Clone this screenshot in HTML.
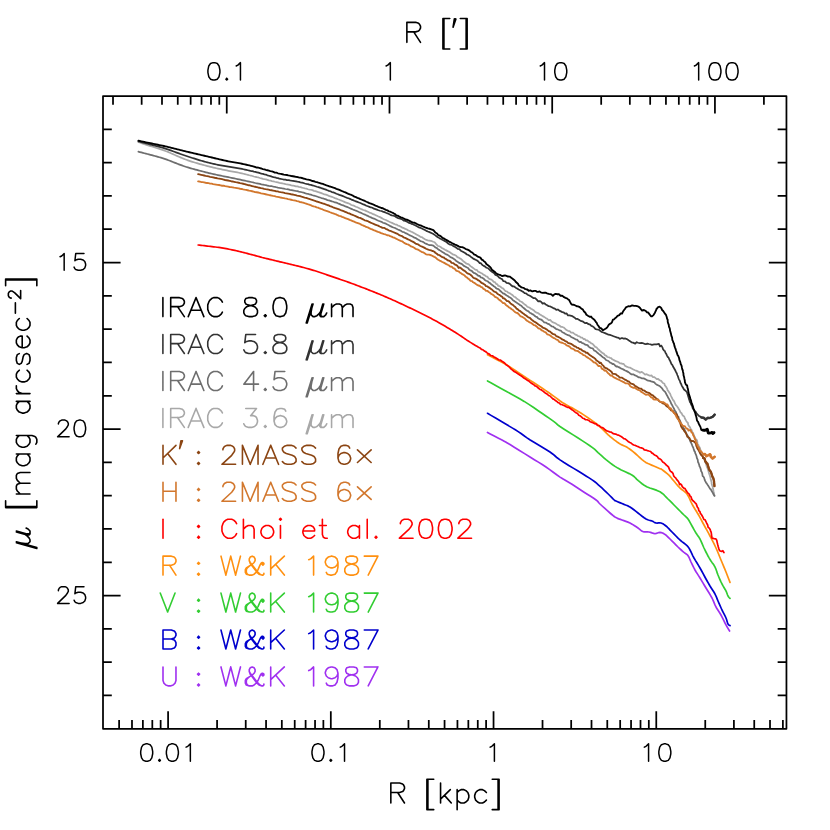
<!DOCTYPE html>
<html><head><meta charset="utf-8"><title>Surface brightness profiles</title>
<style>
html,body{margin:0;padding:0;background:#fff;font-family:"Liberation Sans",sans-serif;}
svg{display:block}
</style></head>
<body>
<svg width="830" height="830" viewBox="0 0 830 830">
<rect width="830" height="830" fill="#fff"/>
<g fill="none" stroke-linecap="round" stroke-linejoin="round">
<path d="M487.5 432.5L490.26 433.92L494.25 435.96L498.49 438.15L502 440L504.18 441.17L505.66 441.99L507.31 442.97L510 444.6L514.25 447.21L519.5 450.46L525 453.89L530 457L534.33 459.67L538.38 462.14L542.23 464.55L546 467L549.69 469.59L553.25 472.22L556.69 474.78L560 477.1L563.14 479.09L566.12 480.84L569.04 482.52L572 484.3L575.02 486.23L578.05 488.21L581.08 490.22L584.1 492.2L587.3 494.25L590.61 496.34L593.67 498.32L596.1 500L597.5 501.15L598.18 501.93L598.79 502.74L600 504L602.16 506L604.87 508.46L607.64 510.94L610 513L611.78 514.51L613.25 515.71L614.59 516.71L616 517.6L617.45 518.34L618.88 518.9L620.36 519.41L622 520L623.86 520.66L625.88 521.34L627.95 522.1L630 523L632.07 524.14L634.19 525.46L636.21 526.8L638 528L639.44 529.07L640.62 530.09L641.75 530.96L643 531.6L644.43 531.9L645.94 531.92L647.48 531.89L649 532L650.52 532.38L652.06 532.9L653.57 533.37L655 533.6L656.32 533.42L657.56 532.98L658.77 532.54L660 532.4L661.25 532.61L662.5 533.04L663.75 533.64L665 534.4L666.18 535.29L667.31 536.32L668.54 537.55L670 539L671.84 540.82L673.94 542.95L676.07 545.1L678 547L679.69 548.58L681.25 550L682.69 551.27L684 552.4L685.16 553.28L686.19 553.94L687.12 554.63L688 555.6L688.8 556.94L689.5 558.5L690.2 560.21L691 562L691.91 563.89L692.88 565.9L693.91 567.96L695 570L696.16 571.95L697.38 573.88L698.66 575.86L700 578L701.43 580.36L702.94 582.88L704.48 585.45L706 588L707.55 590.52L709.12 593.06L710.64 595.57L712 598L713.12 600.34L714.06 602.62L714.98 604.84L716 607L717.2 609.07L718.5 611.06L719.8 613.02L721 615L722.09 617.06L723.12 619.16L724.09 621.18L725 623L725.85 624.6L726.65 626.04L727.37 627.31L728 628.4L728.54 629.31L728.99 630.04L729.35 630.6L729.6 631" stroke="#a030f0" stroke-width="1.7"/>
<path d="M487.5 413.3L490.99 415.36L496.04 418.34L501.47 421.55L506.1 424.3L509.58 426.36L512.56 428.11L515.33 429.78L518.2 431.6L521.02 433.54L523.72 435.51L526.65 437.62L530.2 440L534.83 442.84L540.23 446.03L545.56 449.2L550 452L553 454.19L555.11 456L557.16 457.79L560 459.9L564.04 462.52L568.78 465.43L573.65 468.38L578.1 471.1L582.13 473.57L585.98 475.93L589.49 478.11L592.5 480.1L594.8 481.77L596.52 483.17L598.06 484.54L599.8 486.1L601.88 487.99L604.08 490.05L606.24 492.11L608.2 494L609.97 495.75L611.61 497.43L613.05 498.9L614.2 500L614.8 500.55L614.98 500.66L615.21 500.7L616 501L617.61 501.7L619.74 502.6L622 503.55L624 504.4L625.59 505.03L627 505.54L628.41 506.13L630 507L631.86 508.26L633.88 509.79L635.95 511.42L638 513L640.05 514.59L642.12 516.25L644.14 517.78L646 519L647.69 519.78L649.25 520.25L650.69 520.59L652 521L653.12 521.55L654.06 522.12L654.98 522.64L656 523L657.18 523.07L658.44 522.94L659.73 522.84L661 523L662.23 523.47L663.44 524.12L664.68 524.97L666 526L667.38 527.24L668.81 528.69L670.34 530.29L672 532L673.88 533.92L675.94 536.02L678.02 538.12L680 540L681.91 541.6L683.81 543.03L685.55 544.34L687 545.6L688.01 546.7L688.69 547.65L689.27 548.68L690 550L690.88 551.7L691.81 553.65L692.84 555.77L694 558L695.36 560.34L696.88 562.81L698.45 565.38L700 568L701.55 570.77L703.12 573.69L704.64 576.51L706 579L707.12 581.01L708.06 582.69L708.98 584.27L710 586L711.23 587.95L712.56 590L713.87 592.05L715 594L715.87 595.77L716.56 597.44L717.23 599.13L718 601L718.93 603.13L719.94 605.44L720.98 607.77L722 610L723.05 612.12L724.12 614.19L725.14 616.16L726 618L726.64 619.74L727.12 621.4L727.55 622.86L728 624L728.55 624.75L729.12 625.17L729.64 625.42L730 625.6" stroke="#0000cd" stroke-width="1.7"/>
<path d="M487.5 381L490.85 382.83L495.67 385.46L501.05 388.41L506.1 391.2L510.66 393.71L515.18 396.18L519.69 398.72L524.2 401.4L528.87 404.38L533.63 407.56L538.2 410.69L542.3 413.5L545.88 415.95L549.07 418.17L551.89 420.15L554.3 421.9L555.88 423.16L556.77 424.01L557.85 424.95L560 426.5L563.74 428.93L568.51 431.94L573.54 435.1L578.1 438L582.13 440.6L585.98 443.11L589.49 445.46L592.5 447.6L594.8 449.45L596.52 451.05L598.06 452.58L599.8 454.2L601.79 455.97L603.86 457.79L605.99 459.62L608.2 461.4L610.4 463.1L612.62 464.75L615.03 466.4L617.8 468.1L621.28 469.91L625.27 471.78L629.16 473.61L632.3 475.3L634.34 476.76L635.68 478.08L636.83 479.35L638.3 480.7L640.12 482.18L642.04 483.72L644.2 485.25L646.7 486.7L649.8 487.99L653.38 489.18L656.93 490.4L660 491.8L662.37 493.43L664.33 495.22L666.12 497.09L668 499L670 500.94L672 502.95L674 504.98L676 507L678.09 509.09L680.25 511.25L682.28 513.28L684 515L685.28 516.21L686.25 517.06L687.09 517.88L688 519L689 520.54L690 522.31L691 524.18L692 526L693 527.77L694 529.56L695 531.32L696 533L697 534.5L698 535.88L699 537.31L700 539L701 541.06L702 543.38L703 545.75L704 548L705.02 550.14L706.06 552.25L707.07 554.23L708 556L708.8 557.44L709.5 558.62L710.2 559.75L711 561L711.95 562.38L713 563.81L714.05 565.34L715 567L715.8 568.84L716.5 570.81L717.2 572.88L718 575L718.93 577.23L719.94 579.56L720.98 581.87L722 584L723.05 585.94L724.12 587.75L725.14 589.44L726 591L726.64 592.45L727.12 593.79L727.55 594.98L728 596L728.55 596.84L729.12 597.51L729.64 598.03L730 598.4" stroke="#32cd32" stroke-width="1.7"/>
<path d="M487.5 354.7L490.99 356.53L496.04 359.16L501.47 362.03L506.1 364.6L509.58 366.72L512.56 368.68L515.33 370.57L518.2 372.5L521.2 374.48L524.2 376.46L527.2 378.43L530.2 380.4L533.22 382.34L536.25 384.27L539.28 386.21L542.3 388.2L545.42 390.33L548.6 392.55L551.63 394.7L554.3 396.6L556.43 398.17L558.17 399.52L559.81 400.76L561.6 402L563.77 403.35L566.13 404.73L568.32 405.97L570 406.9L570.71 407.26L570.77 407.2L570.94 407.22L572 407.8L574.32 409.15L577.42 410.98L580.85 413.05L584.1 415.1L587.25 417.19L590.48 419.42L593.52 421.59L596.1 423.5L598.04 425.05L599.53 426.35L600.82 427.58L602.2 428.9L603.71 430.38L605.21 431.93L606.7 433.46L608.2 434.9L609.7 436.22L611.2 437.46L612.7 438.65L614.2 439.8L615.67 440.91L617.12 441.98L618.61 443.01L620.2 444L621.94 444.9L623.78 445.72L625.65 446.59L627.5 447.6L629.25 448.75L630.96 450L632.73 451.4L634.7 453L636.99 455L639.49 457.31L642.01 459.56L644.3 461.4L646.26 462.66L648.02 463.55L649.75 464.29L651.6 465.1L653.78 466.08L656.15 467.09L658.35 468.01L660 468.7L660.77 468.96L660.93 468.91L661.05 468.93L661.7 469.4L663.19 470.51L665.15 472.04L667.19 473.7L668.9 475.2L670.08 476.4L670.96 477.46L671.84 478.6L673 480L674.55 481.82L676.32 483.93L678.18 486.07L680 488L681.8 489.55L683.62 490.88L685.39 492.27L687 494L688.37 496.22L689.56 498.75L690.73 501.41L692 504L693.43 506.48L694.94 508.94L696.48 511.43L698 514L699.5 516.68L701 519.44L702.5 522.23L704 525L705.5 527.73L707 530.44L708.5 533.18L710 536L711.52 538.93L713.06 541.94L714.57 544.98L716 548L717.32 551L718.56 554L719.77 557L721 560L722.27 563.04L723.56 566.1L724.82 569.11L726 572L727.16 574.96L728.31 577.95L729.3 580.57L730 582.4" stroke="#ff9010" stroke-width="1.7"/>
<path d="M198.1 245L199.62 245.17L201.13 245.34L202.65 245.51L204.16 245.68L205.73 245.86L207.3 246.05L208.87 246.23L210.43 246.41L212 246.6L213.71 246.81L215.43 247.02L217.14 247.24L218.86 247.45L220.33 247.68L221.79 247.91L223.26 248.14L224.73 248.37L226.2 248.6L227.64 248.9L229.08 249.21L230.52 249.51L231.96 249.81L233.4 250.12L234.84 250.42L236.37 250.78L237.9 251.15L239.42 251.51L240.95 251.87L242.47 252.24L244 252.6L245.53 253.01L247.05 253.41L248.58 253.82L250.1 254.22L251.63 254.63L253.16 255.03L254.68 255.44L256.2 255.85L257.73 256.27L259.25 256.68L260.78 257.09L262.3 257.5L263.77 257.86L265.25 258.23L266.72 258.59L268.19 258.95L269.66 259.32L271.14 259.68L272.61 260.03L274.09 260.39L275.57 260.74L277.05 261.09L278.52 261.45L280 261.8L281.55 262.16L283.11 262.53L284.66 262.89L286.22 263.25L287.77 263.62L289.32 263.98L290.85 264.35L292.38 264.72L293.91 265.09L295.44 265.46L296.97 265.83L298.5 266.2L300.19 266.65L301.89 267.1L303.58 267.55L305.27 268L306.97 268.46L308.57 268.93L310.18 269.39L311.79 269.86L313.39 270.33L315 270.8L316.48 271.29L317.96 271.78L319.44 272.27L320.92 272.76L322.4 273.25L323.92 273.78L325.44 274.31L326.96 274.84L328.48 275.37L330 275.9L331.48 276.4L332.95 276.9L334.43 277.4L335.9 277.9L337.38 278.39L338.86 278.89L340.4 279.43L341.94 279.96L343.48 280.5L345.02 281.03L346.56 281.57L348.1 282.1L349.61 282.66L351.12 283.21L352.63 283.77L354.14 284.32L355.65 284.88L357.16 285.43L358.66 286.01L360.17 286.59L361.68 287.17L363.19 287.74L364.69 288.32L366.2 288.9L367.7 289.49L369.2 290.09L370.7 290.68L372.2 291.28L373.7 291.87L375.2 292.47L376.7 293.09L378.2 293.71L379.7 294.33L381.2 294.96L382.7 295.58L384.2 296.2L385.71 296.86L387.21 297.52L388.72 298.18L390.23 298.84L391.74 299.5L393.24 300.16L394.75 300.85L396.26 301.54L397.77 302.23L399.28 302.92L400.79 303.61L402.3 304.3L403.81 305.01L405.32 305.72L406.83 306.43L408.33 307.15L409.84 307.86L411.35 308.57L412.86 309.31L414.37 310.05L415.88 310.78L417.38 311.52L418.89 312.26L420.4 313L421.91 313.76L423.42 314.52L424.92 315.28L426.43 316.05L427.94 316.81L429.45 317.57L430.96 318.37L432.47 319.18L433.98 319.98L435.48 320.79L436.99 321.59L438.5 322.4L439.86 323.19L441.22 323.98L442.57 324.77L443.93 325.56L445.29 326.35L446.65 327.14L448.01 327.93L449.44 328.81L450.87 329.69L452.3 330.57L453.74 331.44L455.17 332.32L456.6 333.2L458.04 334.16L459.47 335.12L460.91 336.08L462.34 337.04L463.61 337.91L464.87 338.77L466.14 339.64L467.4 340.5L468.69 341.3L469.99 342.1L471.28 342.89L472.58 343.69L473.87 344.49L475.41 345.42L476.94 346.34L478.47 347.27L480.02 347.93L481.43 349.35L482.93 349.78L484.48 351.11L485.52 351.5L486.83 352.69L488.06 353.64L489.38 354.11L490.78 355.53L492.37 355.76L494.11 356.92L495.61 357.71L497.18 358.72L498.67 359.79L500.22 360.03L501.64 361.03L503.14 361.94L504.63 363.01L506.1 364.83L507.39 365.56L508.89 366.59L509.95 367.75L510.93 368.92L512.52 370.11L514.12 371.48L515.5 372.1L516.81 373.03L518.19 373.92L519.66 374.98L521 375.74L522.5 376.89L523.87 378.09L525.19 378.74L526.43 379.58L527.64 380.45L528.91 381.08L530.3 382.33L531.48 383.25L532.67 384.04L533.88 384.74L535.02 385.93L536.38 386.22L537.52 387.27L538.6 388.25L540 389.44L541.14 389.79L542.24 390.63L543.58 391.52L544.87 392.73L546.17 393.44L547.39 394.21L548.58 395.56L549.97 396L551.48 397.51L552.81 398.87L554.34 399.6L555.44 400.49L557.04 401.63L558.11 402.6L559.33 402.99L560.5 404.34L561.7 404.53L563.23 405.19L564.59 405.77L566.23 406.78L567.44 407.33L568.66 407.34L569.96 408.17L570.75 408.75L572.01 409.77L573.36 410.6L574.77 411.84L576.05 412.72L577.53 413.59L578.75 415.17L580.01 415.71L581.44 416.81L582.78 418.22L583.94 418.53L585.61 419.71L587.11 419.76L588.83 420.46L590.14 421.76L591.46 422.13L593 422.78L594.46 423.59L596.18 423.9L597.53 425.37L599.18 425.58L600.57 427.02L602.1 427.58L603.62 428.37L605.22 429.79L606.68 430.86L608.14 431.27L609.61 431.86L611.25 432.09L612.76 433.38L614.22 433.95L615.71 434.11L617.13 434.8L618.6 435.12L620.21 436.1L621.5 436.78L622.66 437.7L623.78 438.72L625.09 438.8L626.34 439.86L627.53 440.88L628.53 441.78L629.84 442.56L631.06 443.04L632.36 444.17L633.78 444.98L635.33 445.39L637.12 446.26L638.69 446.88L640.22 447.74L641.38 447.85L643.13 448.47L644.28 449.89L645.92 450.05L647.47 450.58L648.78 450.99L650.62 451.51L651.59 452.86L652.76 453.34L653.85 454.42L655.14 455.17L656.23 455.72L657.41 456.59L658.46 458.42L659.92 458.88L661.31 459.91L662.61 461.89L663.82 462.51L665.22 463.82L666.15 465.01L667.35 465.93L668.57 467.13L669.32 469.17L670.19 470.92L671.31 471.86L671.87 472.09L673.08 473.64L673.66 475.91L674.65 477.07L675.67 477.9L676.54 479.4L677.66 480.57L679 482.43L679.56 484.64L680.45 483.83L681.7 485.12L682.26 486.74L684.07 488.42L684.91 488.44L685.97 490.23L686.94 491.73L687.92 493.09L689.2 494.1L690.06 496.16L690.98 496.78L691.83 499.37L692.98 500.74L694.04 501.68L695.19 502.85L696.21 503.82L696.66 505.12L697.42 507.26L698.4 508.3L698.76 510.54L699.97 511.73L700.41 513.54L701.18 514.23L701.96 515.48L702.98 517.42L703.97 519.53L705.14 519.84L705.94 521.52L706.77 523.53L707.59 524.74L708.23 527.58L709.15 527.94L710.23 529.77L710.73 531.39L711.2 532.42L711.55 534.85L711.66 536.52L711.97 538.02L714.03 538.61L715.89 538.85L716.72 540.24L717.28 542.83L717.69 544.51L718.09 546L718.33 547L718.81 548.61L719.59 550.74L721.52 551.41L722.87 550.64L723.56 552.07L723.92 552.6" stroke="#ff0000" stroke-width="1.7"/>
<path d="M138.4 142.1L139.71 142.53L141.4 143.09L142.9 143.59L144.4 144.09L145.9 144.58L147.4 145.08L148.9 145.57L150.4 146.05L151.9 146.54L153.4 147.02L154.9 147.49L156.4 147.97L157.9 148.44L159.4 148.91L160.9 149.4L162.4 149.9L163.9 150.42L165.4 150.97L166.9 151.55L168.4 152.16L169.9 152.79L171.4 153.45L172.9 154.11L174.4 154.79L175.9 155.46L177.4 156.12L178.9 156.77L180.4 157.41L181.9 158.03L183.4 158.63L184.9 159.21L186.4 159.77L187.9 160.31L189.4 160.83L190.9 161.33L192.4 161.81L193.9 162.27L195.4 162.73L196.9 163.17L198.4 163.61L199.9 164.04L201.4 164.46L202.9 164.87L204.4 165.27L205.9 165.67L207.4 166.05L208.9 166.43L210.4 166.8L211.9 167.17L213.4 167.53L214.9 167.88L216.4 168.23L217.9 168.57L219.4 168.91L220.9 169.23L222.4 169.56L223.9 169.87L225.4 170.18L226.9 170.48L228.4 170.77L229.9 171.05L231.4 171.32L232.9 171.6L234.4 171.87L235.9 172.15L237.4 172.44L238.9 172.75L240.4 173.06L241.9 173.4L243.4 173.75L244.9 174.11L246.4 174.48L247.9 174.86L249.4 175.25L250.91 175.52L252.39 176L253.9 176.49L255.44 176.78L256.87 177.15L258.39 177.46L259.92 178.01L261.44 178.43L262.92 178.85L264.42 179.2L265.92 179.43L267.4 179.86L268.92 180.39L270.4 180.56L271.9 181.16L273.42 181.4L274.92 181.75L276.39 182.03L277.89 182.41L279.44 182.84L280.91 183.03L282.38 183.35L283.9 183.73L285.34 184.03L286.89 184.49L288.42 184.63L289.87 184.94L291.41 185.33L292.92 185.53L294.37 185.94L295.91 186.37L297.41 186.46L298.92 186.9L300.43 187.13L301.92 187.67L303.43 188.02L304.9 188.41L306.43 188.68L307.91 189.23L309.42 189.56L310.91 189.75L312.41 190.17L313.95 190.87L315.41 191.18L316.85 191.65L318.4 192.17L319.88 192.6L321.4 193.08L322.91 193.71L324.39 194.42L325.9 194.66L327.44 195.17L328.87 195.85L330.43 196.37L331.9 196.82L333.46 197.49L334.89 198.11L336.45 198.62L337.96 199.21L339.4 199.72L340.88 200.42L342.42 201.03L343.87 201.61L345.44 202.39L346.91 202.85L348.43 203.33L349.89 204.06L351.37 204.97L352.88 205.43L354.37 205.91L355.87 206.71L357.42 207.27L358.87 207.94L360.4 208.71L361.88 209.35L363.37 210.01L364.89 210.37L366.41 211.13L367.92 211.76L369.39 212.56L370.89 212.99L372.42 213.82L373.88 214.38L375.42 215.07L376.93 215.69L378.41 216.46L379.93 217.1L381.33 217.88L382.88 218.74L384.41 219.53L385.91 219.99L387.36 220.74L388.94 221.55L390.4 222.25L391.93 222.83L393.45 223.63L395.01 224.29L396.4 224.61L397.95 225.59L399.34 225.9L400.95 226.8L402.33 227.65L403.96 228.18L405.35 228.87L406.84 229.47L408.39 230.51L409.86 230.99L411.36 231.79L412.9 232.41L414.42 233.31L415.96 234.17L417.41 234.96L418.86 235.82L420.37 236.8L421.96 237.18L423.37 238.36L424.95 239.25L426.35 239.96L427.71 240.33L429.37 240.64L430.71 240.89L431.99 241.18L433.25 241.78L434.64 242.23L435.96 243.87L437.12 245.03L438.14 246.01L439.63 246.39L440.96 247.29L442.23 248.28L443.76 248.92L444.98 249.69L446.28 250.36L447.65 251.11L448.92 251.66L450.27 252.5L451.62 253.61L453.31 254.66L454.72 254.92L456.23 255.75L457.36 257.1L458.59 257.57L459.81 258.39L461.15 259.09L462.23 260.15L463.7 261.54L465.08 262.53L466.59 263.71L468.12 264.03L469.23 264.79L470.52 266.14L471.83 267.07L473.07 267.91L474.3 268.93L475.7 269.89L476.76 269.8L478.19 271.71L479.53 272.14L481.05 273.01L482.16 273.55L483.36 274.63L484.75 275.22L486.11 276.33L487.25 276.61L488.68 278.55L489.97 279.16L491.44 279.64L492.41 280.42L493.74 281.94L495 282.19L496.09 283.84L497.45 284.35L498.33 286L499.7 286.11L500.77 286.94L502.05 287.96L503.29 288.63L504.5 290.05L505.59 291.1L506.93 291.47L508.14 292.7L509.22 293.03L510.43 293.6L511.64 294.57L512.97 295.56L514.1 296.77L515.3 297.07L516.58 298.45L517.78 299.29L518.96 299.94L520.07 301.26L521.41 301.71L522.57 302.53L523.67 303.64L524.86 304.54L526.26 305.5L527.3 306.76L528.61 307.28L529.9 307.82L531 308.77L532.05 309.29L533.61 310.23L535.15 311.8L536.65 312.72L538.22 313.12L539.55 314.21L541.31 315.27L542.59 316.11L544.09 316.86L545.62 317.9L547.22 318.82L548.6 320.13L550.35 319.99L551.68 321.57L553.14 322.43L554.8 323.01L556.27 323.85L557.78 324.89L559.32 325.5L560.91 326.79L562.37 326.95L563.62 327.45L565.24 328.95L566.48 330.05L568.03 330.78L569.67 331.18L571.11 332.6L572.69 332.53L574.41 333.88L575.61 334.69L576.92 335.1L578.14 336.21L579.54 336.38L580.96 337.6L582.35 337.73L583.66 339.23L584.83 338.96L585.98 340.41L587.39 340.42L588.64 341.65L589.99 342.25L591.23 343.43L592.49 343.78L594.11 345.62L595.21 346.83L596.49 347.25L597.52 348.57L598.77 349.75L600.04 350.97L601.27 352.01L602.49 353.06L603.72 353.65L604.97 355.17L606.43 355.85L607.27 357L608.86 357.25L609.93 357.84L611.18 358.15L612.3 359.32L613.66 359.97L614.88 360.64L616.69 361.45L618.26 361.96L620.07 363.35L621.3 363.37L622.45 363.87L623.69 363.88L624.95 365.81L626.6 366.59L628.32 367.3L630.23 367.65L631.52 368.4L633.39 369.44L634.99 370.22L636.77 370.9L638.19 371.59L640 372.63L641.8 371.88L643.45 373.18L645.07 374.56L646.65 374.21L648.45 375.09L650.02 375.75L651.45 375.38L652.78 377.07L654.14 377.03L655.33 377.9L656.73 379.1L657.87 378.79L659.67 380.24L661.15 380.89L662.19 382.17L663.18 383.26L664.28 383.5L664.88 385.37L666.04 386.75L667.26 388.91L667.67 390.42L668.45 391.19L669.23 392.45L670.13 393.78L670.8 395.49L671.33 396.67L672.14 398.25L673.05 400.17L673.58 400.4L674.44 402.03L675.21 404.03L675.97 405.17L677.04 406.26L678.03 407.67L678.76 408.98L679.7 410.47L680.5 412.42L681.41 412.93L682.51 415.16L683.45 416.07L684.21 416.5L684.88 418.46L685.56 419.7L686.23 420.9L687.08 422.1L687.82 422.77L688.33 425.1L689.2 426.4L690.07 427.38L690.59 428.97L691.57 429.87L692.11 431.85L693.04 433.12L693.72 434.58L694.39 436.45L695.12 437.77L695.47 438.96L696.52 439.51L697.24 441.2L697.6 444.52L698.47 445.1L698.82 446.1L699.83 447.8L700.27 449.27L700.89 450.82L701.67 452.3L701.77 453.28L702.46 455.3L702.91 456.22L703.56 457.74L704.12 459.39L704.77 460.14L705.08 462.06L705.92 463.39L706.32 464.96L706.8 466.67L707.44 467.68L707.83 469.35L708.4 471.1L708.94 472.96L709.3 474.27L709.79 475.51L710.32 477.32L710.72 479.31L711.1 480.57L711.66 482.7L711.58 483.53L712.14 485.53L712.7 486.84L712.97 488.87L713.27 489.8L713.55 491.46L713.99 492.91L714.19 494.54L714.52 495.52" stroke="#a8a8a8" stroke-width="1.75"/>
<path d="M138.4 151.7L139.71 152.03L141.4 152.46L142.9 152.85L144.4 153.23L145.9 153.61L147.4 154L148.9 154.39L150.4 154.78L151.9 155.17L153.4 155.57L154.9 155.98L156.4 156.39L157.9 156.81L159.4 157.24L160.9 157.68L162.4 158.14L163.9 158.63L165.4 159.13L166.9 159.66L168.4 160.21L169.9 160.78L171.4 161.37L172.9 161.97L174.4 162.57L175.9 163.17L177.4 163.76L178.9 164.33L180.4 164.9L181.9 165.44L183.4 165.97L184.9 166.47L186.4 166.96L187.9 167.42L189.4 167.87L190.9 168.3L192.4 168.73L193.9 169.14L195.4 169.54L196.9 169.95L198.4 170.34L199.9 170.74L201.4 171.13L202.9 171.52L204.4 171.9L205.9 172.28L207.4 172.66L208.9 173.03L210.4 173.39L211.9 173.75L213.4 174.09L214.9 174.43L216.4 174.75L217.9 175.07L219.4 175.38L220.9 175.69L222.4 175.99L223.9 176.3L225.4 176.6L226.9 176.9L228.4 177.21L229.9 177.51L231.4 177.82L232.9 178.13L234.4 178.44L235.9 178.76L237.4 179.07L238.9 179.39L240.4 179.71L241.9 180.03L243.4 180.36L244.9 180.68L246.4 181.01L247.9 181.34L249.4 181.67L250.94 181.99L252.36 182.26L253.92 182.68L255.41 183.01L256.89 183.3L258.4 183.57L259.92 183.92L261.37 184.31L262.9 184.63L264.44 184.97L265.86 185.23L267.36 185.54L268.89 185.91L270.45 186.07L271.9 186.24L273.39 186.6L274.92 186.92L276.41 187.25L277.86 187.62L279.4 187.97L280.89 188.01L282.43 188.49L283.91 188.64L285.43 188.99L286.93 189.24L288.39 189.45L289.92 189.85L291.42 190.07L292.92 190.37L294.42 190.73L295.89 191L297.35 191.2L298.9 191.61L300.36 191.96L301.89 192.25L303.42 192.53L304.87 193.17L306.45 193.53L307.93 193.81L309.45 194.47L310.88 194.66L312.43 195.23L313.88 195.55L315.43 196L316.92 196.5L318.43 197.05L319.91 197.49L321.41 198.02L322.89 198.3L324.41 198.96L325.91 199.34L327.4 200.13L328.91 200.39L330.43 200.82L331.91 201.42L333.43 201.74L334.9 202.42L336.4 202.66L337.9 203.32L339.38 203.92L340.91 204.61L342.38 205.21L343.94 205.69L345.38 206.34L346.89 206.85L348.42 207.54L349.92 208.18L351.41 208.87L352.92 209.54L354.4 210.05L355.88 210.7L357.4 211.23L358.92 211.95L360.41 212.59L361.89 213.32L363.38 213.98L364.92 214.59L366.4 215.33L367.92 215.9L369.35 216.8L370.91 217.4L372.43 218.08L373.95 218.58L375.4 219.29L376.9 220.07L378.39 220.71L379.9 221.28L381.47 221.87L382.97 222.76L384.3 223.19L385.89 223.7L387.42 224.54L388.84 225.18L390.39 226.14L391.95 226.89L393.35 227.51L395.02 227.99L396.42 228.77L397.9 229.52L399.38 230.16L400.81 230.8L402.4 231.87L403.93 232.1L405.33 233.15L406.98 233.69L408.43 234.61L409.9 235.43L411.48 235.97L412.9 236.75L414.41 237.66L416 238.16L417.49 239.16L418.86 240.08L420.4 241.07L421.9 241.5L423.43 242.11L424.89 243.19L426.44 243.9L427.9 244.54L429.42 245.11L431.31 245.17L433.38 245.68L435.26 247.35L436.74 248L438.28 249.46L439.55 250.13L440.97 251.1L442.34 251.96L443.72 252.78L445.05 253.68L446.31 254.39L447.62 254.83L448.97 255.83L450.21 256.93L451.63 257.59L453.25 258.56L454.65 259.41L456.17 260.9L457.58 261.82L458.6 262.59L459.76 263.11L460.96 263.61L462.26 264.31L463.85 265.84L465.17 266.44L466.54 267.28L468.06 268.03L469.26 269.63L470.47 270.43L471.77 270.88L473.02 272.33L474.28 273.16L475.43 273.44L476.84 274.48L478.27 275.76L479.62 275.83L480.58 277.34L482.18 277.71L483.4 278.41L484.8 279.92L486.14 280.76L487.61 281.23L488.89 282.52L490.06 283.14L491.24 284.26L492.52 285.19L493.77 286.27L495.03 286.98L496.24 288.33L497.4 288.96L498.46 289.07L499.57 290.27L500.69 291.25L501.96 292.41L503.25 293.53L504.41 293.62L505.58 294.86L506.75 295.57L508.08 296.3L509.38 297.26L510.4 297.56L511.82 298.93L512.96 300.22L514.25 301.02L515.29 301.83L516.44 302.6L517.74 303.38L518.92 304.21L519.99 305.14L521.37 305.75L522.58 307.1L523.7 307.97L524.87 308.99L526.2 310.23L527.22 310.8L528.54 311.38L529.73 312.75L530.99 313.26L532.14 314.17L533.47 314.61L534.53 315.75L535.66 316.55L536.83 316.89L538.08 318.32L539.6 319.17L541.15 319.53L542.64 320.77L544.22 322.44L545.78 322.61L547.31 323.57L548.8 324.07L550.14 325.08L551.62 326.3L553.19 326.58L554.59 327.81L556.18 329.03L557.74 329.37L559.37 330.38L560.79 330.54L562.32 332.27L563.64 332.79L565.14 333.72L566.54 334.47L568.06 335.14L569.72 335.66L571.07 336.93L572.76 337.76L574.21 338.6L575.51 339.32L577.06 339.58L578.46 341.27L579.74 342.13L580.89 341.86L582.23 343.16L583.56 343.43L584.73 344.38L586.18 344.97L587.53 345.06L588.64 346.62L590.04 347.65L591.48 348.25L592.68 348.33L594.15 350.43L595.34 351.1L596.49 351.85L597.46 352.8L598.75 353.85L599.95 354.78L601.26 355.79L602.46 356.9L603.74 357.66L604.99 358.73L606.28 360.23L607.28 360.48L608.43 360.99L610.12 362.72L611.2 362.99L612.56 364.05L613.72 363.99L614.86 365.24L616.33 366.52L617.49 366.46L618.7 367.14L620.11 367.86L621.2 368.64L622.53 369.03L623.58 369.61L625.17 370.51L626.68 371.13L628.47 372.12L629.86 373.17L631.67 374.43L633.28 374.27L635.12 375.42L636.59 376.03L638.5 377.34L640.01 377.47L641.68 378.31L643.53 378.43L644.93 378.94L646.88 380.1L648.29 380.74L649.88 380.91L651.15 381.42L652.98 381.91L654.44 382.41L655.29 383.62L656.65 384.62L657.98 385.2L659.03 385.77L660.02 386.32L661.34 387.54L662.14 388.58L663.18 390.06L664.02 390.92L665.17 391.96L665.81 393.05L666.69 394.76L667.36 395.97L668.24 397.8L668.85 398.7L669.59 400.07L670.48 401.72L671.02 403.29L671.88 404.66L672.76 406.39L673.58 407.9L674.4 409.48L674.76 410.56L675.81 411.85L676.26 412.95L677.12 415.44L677.63 416.14L678.52 416.9L678.89 419.18L679.8 420.28L680.48 421.78L681.17 424.12L682.05 425.18L682.74 426.08L683.32 427.77L684.25 428.78L684.88 430.65L685.39 431.29L686.44 433.66L687.05 434.71L687.78 435.89L688.53 437.91L689.2 438.76L689.87 440.24L690.35 441.51L691.24 443L691.89 444.56L692.48 446.11L693.22 447.61L693.69 449.1L694.39 451.09L694.93 451.69L695.21 453.16L695.97 454.68L696.47 456.03L696.94 458.23L697.75 459.92L697.99 462L698.6 463.19L699.1 464.62L699.58 466.45L700.19 467.39L700.83 469.53L701.14 471.17L701.79 472.12L702.37 474.06L702.57 475.96L703.45 476.65L704.14 477.86L704.6 479.6L705.14 480.94L706.13 482.7L706.83 483.6L708.08 485.6L708.92 486.87L709.94 488.67L710.82 489.27L711.55 490.8L712.34 492.11L713.05 493.4L713.74 494.77L714.53 495.91" stroke="#6e6e6e" stroke-width="1.75"/>
<path d="M138.4 141.4L139.71 141.74L141.4 142.18L142.9 142.58L144.4 142.97L145.9 143.36L147.4 143.75L148.9 144.14L150.4 144.53L151.9 144.91L153.4 145.3L154.9 145.68L156.4 146.07L157.9 146.46L159.4 146.85L160.9 147.25L162.4 147.67L163.9 148.11L165.4 148.57L166.9 149.05L168.4 149.56L169.9 150.1L171.4 150.64L172.9 151.2L174.4 151.77L175.9 152.33L177.4 152.88L178.9 153.43L180.4 153.96L181.9 154.49L183.4 155.01L184.9 155.51L186.4 156.01L187.9 156.51L189.4 157L190.9 157.49L192.4 157.97L193.9 158.44L195.4 158.92L196.9 159.38L198.4 159.84L199.9 160.29L201.4 160.73L202.9 161.16L204.4 161.58L205.9 161.99L207.4 162.38L208.9 162.77L210.4 163.14L211.9 163.51L213.4 163.86L214.9 164.19L216.4 164.52L217.9 164.83L219.4 165.13L220.9 165.42L222.4 165.7L223.9 165.97L225.4 166.23L226.9 166.48L228.4 166.73L229.9 166.96L231.4 167.19L232.9 167.42L234.4 167.65L235.9 167.88L237.4 168.12L238.9 168.38L240.4 168.65L241.9 168.94L243.4 169.25L244.9 169.56L246.4 169.89L247.9 170.23L249.4 170.57L250.92 171.01L252.35 171.15L253.92 171.61L255.36 171.96L256.93 172.31L258.43 172.61L259.91 173.16L261.39 173.58L262.94 173.92L264.39 174.33L265.89 174.68L267.43 175.29L268.92 175.72L270.41 176.16L271.9 176.64L273.4 177.08L274.87 177.29L276.39 177.8L277.88 178.11L279.41 178.58L280.88 178.97L282.42 179.24L283.94 179.52L285.4 179.72L286.89 180.02L288.41 180.24L289.89 180.48L291.4 180.68L292.9 180.83L294.39 181.11L295.9 181.37L297.39 181.69L298.9 181.95L300.36 182.44L301.91 182.69L303.37 182.97L304.9 183.5L306.39 183.83L307.93 184.09L309.39 184.61L310.91 184.94L312.38 185.3L313.92 185.78L315.4 186.28L316.9 186.76L318.46 187.07L319.91 187.55L321.4 188.13L322.92 188.62L324.39 189.17L325.93 189.68L327.39 190.29L328.88 190.8L330.39 191.26L331.89 192.05L333.4 192.34L334.92 193.02L336.39 193.74L337.88 194.23L339.38 194.9L340.96 195.39L342.4 195.91L343.91 196.57L345.44 197.2L346.91 197.8L348.41 198.27L349.93 198.86L351.42 199.56L352.91 200.12L354.41 200.77L355.89 201.35L357.39 201.93L358.87 202.49L360.44 203.05L361.87 203.7L363.41 204.44L364.93 204.95L366.38 205.71L367.91 206.27L369.39 206.85L370.93 207.48L372.43 207.74L373.87 208.64L375.4 209.13L376.88 209.69L378.42 210.27L379.9 210.74L381.43 211L382.9 211.58L384.52 212.16L385.97 212.8L387.4 213.32L388.9 214L390.39 214.83L391.84 215.34L393.43 215.6L394.99 216.21L396.4 217.2L397.88 218.09L399.28 218.4L400.89 218.9L402.44 219.56L403.92 220.69L405.36 220.93L406.93 221.6L408.39 222.61L409.91 223.08L411.36 223.81L412.94 224.17L414.42 225.05L415.94 225.68L417.37 226.46L418.95 227.39L420.4 227.82L421.83 228.49L423.33 229.19L424.92 230L426.33 230.84L427.81 231.53L429.45 232.16L431.33 233.06L433.41 234.04L435.35 235.36L436.71 236.45L438.26 237.4L439.66 238.37L441.07 238.96L442.35 239.78L443.73 240.48L445.04 241.27L446.42 242L447.69 243.18L448.92 244.01L450.22 244.75L451.61 244.87L453.31 246.12L454.76 246.65L456.32 247.7L457.67 248.93L459.41 249.2L460.79 250.69L462.31 251.45L463.77 252.29L465.45 253.26L466.92 254.48L468.39 255.03L469.48 255.66L470.6 256.64L471.75 257.46L473.18 258.69L474.24 259.1L475.58 259.75L476.89 260.35L478.32 261.49L479.69 263.08L480.75 263.2L482.33 265L483.7 265.87L485.21 266.6L486.46 267.77L488.22 268.28L490.05 270.21L491.35 271.23L492.69 272.31L494.2 273.19L495.44 274.9L496.76 275.37L498.09 276.42L499.42 277.78L500.74 278.56L501.99 279.08L503.42 281.16L505.05 281.36L506.52 282.79L508.19 283.14L509.48 283.62L510.87 284.96L512.76 286.45L514.06 286.45L515.66 287.66L517.15 288.5L518.59 289.53L520.23 290.23L521.66 291.09L523.17 291.85L524.61 293.17L526.03 293.36L527.54 294.72L529.35 295.46L530.8 296.3L532.14 297.15L533.59 298.21L535.17 298.19L536.71 299.6L538.26 301.29L539.74 301.02L541.01 301.72L542.62 303.68L544.19 303.15L545.74 304.48L547.18 305.21L548.69 306.24L550.23 306.48L551.81 307.23L553.21 308.11L554.79 308.67L556.23 309.8L557.84 309.5L559.33 310.62L560.83 311.34L562.23 312.13L563.74 312.46L565.04 313.55L566.66 313.41L568 315.45L569.53 315.42L571.33 315.81L572.77 316.41L574.36 317.38L575.91 318.8L577.59 318.96L578.92 319.68L580.63 320.9L582.48 321.28L583.85 322.24L585.29 323.2L586.81 322.92L588.48 324.2L590.2 324.7L591.36 325.97L592.68 326.32L593.99 327.44L595.52 329.05L596.91 329.32L598.55 329.53L600.13 330.75L601.52 331.9L603.32 332.48L604.99 333.09L606.65 333.83L608.4 334.72L609.99 334.95L611.69 335.52L613.49 336.21L614.97 336.78L616.69 337.43L618.69 337.9L619.73 338.81L621.99 337.97L623.57 338.59L625.36 338.48L627 339.1L628.57 340.24L630.03 341.14L631.75 342.43L632.98 342.67L635.25 343.64L636.75 342.2L638 342.76L639.9 343.09L641.81 342.97L643.21 343.25L644.69 343.93L645.99 344.24L647.33 343.58L648.83 343.99L650.22 344.26L651.96 344.88L654.15 344.47L655.56 344.48L656.53 344.33L658.91 343.95L660 346.46L661.33 345.57L662.55 347.68L663.04 349.23L664.15 350.61L664.81 351.04L665.45 352.74L666.14 353.7L666.88 355.34L667.78 356.97L668.52 357.47L669.33 359.48L670.14 360.87L670.87 362.69L671.37 363.97L672.43 365.06L673.13 366.79L673.79 367.83L674.33 368.7L675.36 370.55L675.94 371.91L676.83 373.53L677.34 374.96L678.14 376.92L678.63 378.55L679.14 379.59L679.96 381.12L680.37 382.67L680.96 383.58L681.89 385.83L682.73 387.25L684.03 389.48L685.28 390.45L686.96 392.26L687.38 393.67L687.83 395.03L688.32 396.67L688.93 398.87L689.41 400.3L689.92 401.96L690.68 403.11L691.11 404.58L692.12 406.12L692.6 407.92L693.33 408.88L694.27 410.18L694.9 411.7L695.65 411.55L696.58 413.4L697.94 414.78L699.41 416.3L700.13 416.44L701.37 417.4L703.63 417.84L705.68 419.5L707.67 417.84L709.13 418.01L710.59 417.6L712.55 416.85L713.78 415.59L714.69 414.6" stroke="#333333" stroke-width="1.75"/>
<path d="M701.37 417.4L703.63 417.84L705.68 419.5L707.67 417.84L709.13 418.01L710.59 417.6L712.55 416.85L713.78 415.59L714.69 414.6" stroke="#333333" stroke-width="2.5"/>
<path d="M138.4 140.7L139.71 140.98L141.4 141.33L142.9 141.65L144.4 141.96L145.9 142.28L147.4 142.59L148.9 142.9L150.4 143.22L151.9 143.53L153.4 143.84L154.9 144.14L156.4 144.45L157.9 144.76L159.4 145.07L160.9 145.38L162.4 145.7L163.9 146.02L165.4 146.35L166.9 146.7L168.4 147.05L169.9 147.41L171.4 147.78L172.9 148.15L174.4 148.53L175.9 148.91L177.4 149.29L178.9 149.66L180.4 150.04L181.9 150.42L183.4 150.79L184.9 151.17L186.4 151.53L187.9 151.9L189.4 152.26L190.9 152.62L192.4 152.97L193.9 153.32L195.4 153.67L196.9 154.01L198.4 154.36L199.9 154.7L201.4 155.04L202.9 155.38L204.4 155.73L205.9 156.08L207.4 156.43L208.9 156.78L210.4 157.14L211.9 157.5L213.4 157.86L214.9 158.23L216.4 158.59L217.9 158.96L219.4 159.32L220.9 159.67L222.4 160.02L223.9 160.36L225.4 160.69L226.9 161L228.4 161.29L229.9 161.57L231.4 161.84L232.9 162.09L234.4 162.35L235.9 162.61L237.4 162.88L238.9 163.16L240.4 163.45L241.9 163.76L243.4 164.08L244.9 164.41L246.4 164.76L247.9 165.11L249.4 165.46L250.9 165.83L252.39 166.18L253.9 166.57L255.38 167.01L256.82 167.51L258.42 167.7L259.88 168.08L261.42 168.5L262.86 169.03L264.38 169.37L265.89 169.87L267.43 170.24L268.9 170.64L270.39 171.05L271.88 171.39L273.38 171.94L274.84 172.59L276.4 172.64L277.9 173.27L279.45 173.69L280.86 173.9L282.43 174.26L283.89 174.61L285.4 174.89L286.91 175L288.39 175.34L289.9 175.63L291.39 176.02L292.92 176.22L294.38 176.51L295.89 176.82L297.4 177.03L298.88 177.49L300.4 177.67L301.9 177.98L303.35 178.53L304.88 178.81L306.41 179.38L307.9 179.67L309.4 179.95L310.9 180.48L312.42 181.03L313.89 181.23L315.37 181.77L316.88 182.17L318.4 182.65L319.93 183.05L321.42 183.53L322.87 183.98L324.39 184.52L325.86 185.15L327.37 185.73L328.9 186.24L330.42 186.6L331.9 187.13L333.47 187.71L334.95 188.17L336.38 188.78L337.93 189.33L339.38 189.94L340.91 190.61L342.37 191.26L343.93 191.93L345.39 192.4L346.89 193.16L348.41 193.85L349.87 194.45L351.41 194.96L352.93 195.69L354.4 196.61L355.93 197.2L357.37 197.86L358.89 198.37L360.38 199.12L361.93 199.77L363.4 200.37L364.89 200.96L366.43 201.75L367.88 202.33L369.35 203.1L370.88 203.53L372.41 204.2L373.99 204.79L375.42 205.62L376.86 206.04L378.42 206.8L379.93 207.36L381.33 208.02L382.88 208.24L384.43 209.21L385.89 209.88L387.42 210.36L388.87 211.3L390.38 211.73L391.91 212.46L393.41 213.19L394.92 214.02L396.34 215.35L398.02 215.74L399.41 216.65L400.88 217.33L402.27 217.73L403.87 218.53L405.41 219.51L406.92 219.71L408.46 220.38L409.94 221.03L411.37 221.83L412.88 222.59L414.42 222.6L415.87 223.45L417.43 224.24L418.84 224.83L420.34 225.28L421.86 225.95L423.36 226.72L424.99 227.35L426.39 227.85L427.79 228.46L429.46 228.76L431.27 229.29L433.37 230.04L434.44 231.34L435.3 232.36L436.22 233.09L437.26 233.78L438.13 235L439.69 235.62L441.21 236.54L442.58 237.91L444.16 238.59L445.63 239.7L447.14 240.39L448.7 241.39L450.14 242.1L451.88 243.04L453.49 243.84L455.03 244.59L456.41 245.2L457.83 245.89L459.03 246.64L460.86 247.19L462.12 247.2L464.1 247.95L465.82 249.06L467.62 249.7L469.48 250.63L470.71 251.71L472.12 252.59L473.16 253.39L474.26 254.58L475.55 254.87L476.56 255.77L477.91 256.64L479.09 257.04L480.36 257.59L481.73 259.61L482.9 260.04L484.04 261.36L485.31 262.35L486.32 263.99L488.35 265.47L489.96 266.86L491.01 268.13L491.84 269.71L492.84 270.36L493.9 271.21L494.87 272.03L496.02 273.14L497.4 274.09L499.04 274.72L500.25 274.99L501.96 276.07L503.39 275.75L505 275.44L506.45 275.85L507.92 276.54L509.72 276.59L510.9 277.48L512.58 278.71L514.18 280L514.96 280.66L515.63 281.69L516.49 282.45L517.93 283.72L518.87 285.46L520.05 286.34L521.53 287.4L522.51 287.67L523.74 287.87L524.93 288.95L526.01 289.22L527.31 289.47L528.7 290.78L530.34 290.36L532.35 291.44L534.1 290.82L535.85 290.91L537.01 291.82L538.15 291.85L539.59 291.41L540.72 292.35L542.57 292.85L544.11 292.78L545.59 292.69L547 293.3L548.66 293.81L550.18 294.05L551.39 294.44L552.85 295.82L554.35 294.32L555.72 293.84L557.12 294.21L558.88 294.2L560.57 295.79L562.18 295.59L564.07 297.18L565.48 297.87L566.99 298.36L568.2 299.41L569.18 300.04L570.09 301.94L570.95 303.6L571.91 304.65L573.13 304.74L574.34 304.95L575.42 305.55L576.72 306.26L578 306.35L579.15 306.81L580.36 307.61L581.58 308.8L582.94 309.65L584 311.45L585.19 312.49L586.42 314.79L588.31 315.95L590.01 316.85L591.03 316.55L592.03 317.86L594.01 319.5L594.73 320.19L596.1 322.3L596.67 322.77L597.46 324.75L598.34 325.76L599.24 327.2L600.09 328.07L600.98 328.21L602.97 330.26L604.98 329.06L606.24 328.2L607.25 327.36L608.8 324.71L609.99 323.79L610.91 323.39L611.95 322.29L612.93 319.63L613.97 319.32L615.26 318.06L616.1 317.54L617.55 315.77L619.3 315.09L620.71 313.37L622.05 313.47L622.99 311.59L624.27 309.75L625.21 308.67L625.95 307.29L628.21 306.24L630.07 306.3L632.1 305.45L634.2 305.92L635.87 305.8L638.07 306.45L639.18 307.11L640.07 308.01L641.07 309.45L642.07 310.62L643.95 310L645.89 311.06L647.01 312.28L648.19 312.51L648.99 313.61L649.94 314.87L651.16 316.36L652.03 316.33L653.48 315.08L654.31 313.73L654.96 312.83L655.41 311.44L656 310.55L656.63 308.64L656.92 308.64L658.13 307.03L659.69 306.64L660.31 307.16L661.31 308.24L662.07 309.97L663.22 311.04L664.36 312.68L665.11 313.94L665.92 314.73L666.73 317.07L667.12 318.84L667.67 319.74L667.76 322.03L668.28 323.76L668.71 324.53L668.98 326.73L669.55 327.88L669.88 328.94L670.04 330.51L670.49 332.02L671.02 333.97L671.24 335.29L671.59 336.53L672.05 337.3L672.38 340.12L672.98 341.13L673.33 342.52L673.95 343.49L674.37 345.65L674.94 347.34L675.45 348.62L676.04 350.5L676.35 351.39L677.14 353.59L677.43 354.9L678.05 355.55L678.57 356.69L679.16 358.34L679.39 359.97L679.99 361.35L680.52 362.96L680.72 364.11L681.38 365.23L681.74 366.55L681.87 367.41L682.26 369.27L682.74 370.27L683.04 371.95L683.48 373.78L683.47 374.91L684.2 377.58L684.43 379.01L684.8 380.4L684.92 382.19L685.94 384.75L687.14 385.37L687.49 387.8L687.98 389.11L688.27 391.06L688.66 393.12L688.94 394.39L689.41 395.67L690.06 397.56L690.42 399.12L690.92 400.06L691.51 403L692.2 404.25L692.48 405.42L693.12 407.14L693.56 409.15L694.03 409.86L694.67 411.64L695.06 412.58L695.59 414.64L696.12 416.12L696.52 417.68L696.91 420.05L697.56 421.32L698.14 421.87L698.49 423.16L699.09 424.4L699.4 425.04L700.45 426.87L701.24 429.86L702.58 430.14L704.37 430.25L705.82 430.01L707.23 429.15L708.26 432.95L709.19 433.07L710.83 432.83L712.07 432.41L713 433.41L714.01 432.62" stroke="#000000" stroke-width="1.85"/>
<path d="M702.58 430.14L704.37 430.25L705.82 430.01L707.23 429.15L708.26 432.95L709.19 433.07L710.83 432.83L712.07 432.41L713 433.41L714.01 432.62" stroke="#000000" stroke-width="2.9"/>
<path d="M198.1 174.2L199.43 174.44L201.11 174.79L202.61 175.1L204.12 175.48L205.6 175.85L207.11 176.11L208.59 176.44L210.06 176.79L211.63 177.08L213.08 177.42L214.6 177.77L216.09 178L217.61 178.35L219.13 178.65L220.61 178.94L222.07 179.21L223.6 179.59L225.1 180L226.58 180.23L228.11 180.53L229.62 180.82L231.11 181.23L232.6 181.47L234.09 181.82L235.59 182.16L237.08 182.45L238.59 182.72L240.1 183.13L241.62 183.46L243.11 183.76L244.59 184.14L246.12 184.51L247.59 184.99L249.08 185.22L250.61 185.65L252.1 186.04L253.6 186.46L255.1 186.77L256.57 187.07L258.09 187.47L259.59 187.78L261.1 188.15L262.59 188.36L264.11 188.81L265.6 189.09L267.11 189.33L268.6 189.7L270.1 190.05L271.57 190.26L273.1 190.6L274.62 190.93L276.1 191.24L277.61 191.43L279.13 191.83L280.59 192.16L282.11 192.43L283.58 192.67L285.09 193.04L286.6 193.31L288.11 193.61L289.6 193.94L291.1 194.27L292.6 194.47L294.1 194.79L295.6 195.12L297.11 195.58L298.58 195.84L300.13 196.21L301.55 196.72L303.11 197.17L304.64 197.6L306.12 197.9L307.63 198.46L309.06 198.89L310.63 199.41L312.09 199.85L313.6 200.38L315.09 200.81L316.59 201.49L318.13 201.86L319.55 202.46L321.06 202.78L322.53 203.36L324.1 203.76L325.57 204.46L327.14 204.99L328.64 205.41L330.03 206.04L331.6 206.6L333.08 207.27L334.6 207.86L336.09 208.29L337.64 208.85L339.09 209.37L340.59 210.02L342.13 210.58L343.61 211.17L345.1 211.79L346.64 212.47L348.05 213.04L349.62 213.49L351.14 214.41L352.61 214.85L354.11 215.48L355.57 216.15L357.1 216.86L358.64 217.64L360.13 217.91L361.58 218.61L363.06 219.33L364.63 220.29L366.14 220.54L367.64 221.05L369.11 221.93L370.61 222.65L372.07 223.26L373.59 223.89L375.1 224.54L376.59 225.17L378.08 225.64L379.59 226.49L381.09 227.06L382.56 227.83L384.07 227.82L385.67 228.81L387.08 229.41L388.65 230.29L390.17 230.77L391.61 231.41L392.99 231.98L394.57 232.68L396.23 233.32L397.63 233.88L399.14 235.14L400.57 235.65L402.17 236.16L403.57 237.28L405.1 237.79L406.56 238.59L408.08 239.39L409.57 240.02L411.09 240.92L412.6 241.6L414.13 242.42L415.56 243.52L417.08 244.03L418.51 244.71L419.98 245.72L421.52 246.46L423.13 247.08L424.62 247.85L426.07 248.76L427.6 249.38L429.11 249.87L431.14 250.37L432.32 251.01L433.43 251.19L434.36 251.77L435.32 252.74L436.82 253.73L438.24 254.94L439.6 255.15L440.94 256.2L442.39 257.09L443.83 257.49L445.03 258.64L446.25 259.07L447.58 260.24L448.89 260.63L450.41 261.34L451.61 262.89L453.36 263.05L454.65 264.35L456.34 265.07L457.46 265.99L458.72 267.99L459.93 267.42L461.03 268.18L462.19 269.18L463.75 270.4L465.27 271.29L466.62 272.67L468.2 273.72L469.41 274.08L470.46 274.76L471.9 275.96L473.07 277.53L474.18 278.09L475.73 278.7L476.94 279.3L478.4 280.48L479.46 280.9L480.93 282.36L482.11 283.13L483.67 283.93L484.87 284.7L486 286.06L487.46 286.42L488.72 287.41L489.99 288.13L491.41 289.17L492.52 290.19L493.78 291.4L495.05 291.91L496.21 292.32L497.37 293.76L498.55 294.49L499.8 295.11L500.93 296.07L502.24 296.81L503.03 298.22L504.3 298.4L505.6 299.68L507 301.15L508 301.08L509.19 301.86L510.52 303.42L511.82 304.37L512.83 304.89L514.19 306.19L515.34 307.05L516.45 308.57L517.62 309.11L518.76 310.3L520.32 311.06L521.27 311.99L522.52 313.01L523.65 313.79L524.92 314.88L526.13 315.56L527.29 316.49L528.4 317.4L529.87 317.78L530.88 318.94L532.23 320.14L533.28 320.88L534.63 321.99L535.78 322.4L537.2 323.41L538.11 324.32L539.57 325.21L541.31 326.31L542.75 327.55L544.19 328.03L545.69 328.9L546.97 329.6L548.67 331.08L550.14 331.69L551.68 333.14L553.27 334.1L554.88 334.49L556.17 336.03L557.67 336.64L559.37 337.47L560.72 338.29L562.21 339.46L563.85 340.11L565.12 341.08L566.73 341.55L568.03 343L569.56 343.3L571.1 343.85L572.85 344.94L574.47 346.26L575.49 346.41L576.78 347.56L578.33 347.85L579.63 349.12L580.92 349.27L582.08 350.38L583.61 351.25L584.95 351.68L586.05 352.79L587.3 352.75L588.59 353.96L590.07 355.21L591.24 355.97L592.42 356.87L593.91 357.78L595.06 358.63L596.23 360.09L597.37 361.06L598.52 361.7L599.68 363.09L600.86 362.58L602.01 364.62L603.22 365.62L604.46 367.53L605.39 367.77L606.7 368.31L607.95 369.21L609.03 369.9L610.47 371.07L611.68 372.07L612.68 373.86L614.06 373.93L615.5 374.08L617.22 375.48L618.56 376.29L619.8 377.59L621.64 377.56L623.21 378.58L624.36 379.31L626.18 380.18L627.86 381.36L628.91 381.51L630.52 383.32L632.08 383.87L633.63 384.46L634.93 385.84L636.44 386.59L637.73 387.63L639.43 388.27L641.28 388.76L642.6 390.11L644.47 390.69L645.56 391.57L647.13 392.36L648.81 392.85L649.97 393.55L651.47 394.84L652.88 395.46L654.35 397.01L655.4 397.46L656.58 399.04L657.65 399.11L658.73 400.86L660.07 401.89L661.3 402.23L662.66 403.27L663.71 403.66L664.91 404.11L666.32 405.99L667.44 406.72L668.73 407.59L669.78 408.61L670.97 410.26L672.09 410.59L673.24 411.37L674.18 413.12L675.35 413.89L676.57 414.17L677.38 416.42L678.19 418.83L679.26 419.84L679.44 421.65L680.11 422.81L680.55 424.31L681.18 426.42L682.02 427.86L682.71 429.03L683.4 429.41L684.14 430.93L685.37 432.4L686.43 434.25L687.29 436.72L688.29 437.19L689.45 438.04L690.5 440.16L691.81 441.17L693.13 440.93L694.83 442.18L695.92 443.59L696.3 445.73L696.96 447.05L697.28 448.29L697.57 448.62L698.65 450.27L699.49 451.83L700.35 453.75L701.14 454.99L702.75 456.49L703.17 457.98L704.53 458.37L705.36 461.46L706.06 461.89L706.63 463.47L707.31 463.4L708.32 466.73L708.99 469.05L709.42 469.91L710.49 471.24L710.95 472L711.46 473.57L712.44 476.77L712.59 476.96L713.32 478.15L714.02 481.07L714.03 481.7L714.44 486.08" stroke="#8b4513" stroke-width="1.85"/>
<path d="M703.17 457.98L704.53 458.37L705.36 461.46L706.06 461.89L706.63 463.47L707.31 463.4L708.32 466.73L708.99 469.05L709.42 469.91L710.49 471.24L710.95 472L711.46 473.57L712.44 476.77L712.59 476.96L713.32 478.15L714.02 481.07L714.03 481.7L714.44 486.08" stroke="#8b4513" stroke-width="2.3"/>
<path d="M198.1 181.4L199.41 181.54L201.1 181.97L202.58 182.2L204.09 182.44L205.6 182.77L207.09 182.98L208.6 183.21L210.07 183.58L211.63 183.63L213.11 184.13L214.59 184.33L216.08 184.55L217.6 184.87L219.09 185L220.59 185.34L222.12 185.73L223.61 185.72L225.12 186.2L226.57 186.45L228.1 186.7L229.61 186.99L231.13 187.08L232.62 187.35L234.09 187.68L235.59 187.8L237.1 188.13L238.63 188.44L240.12 188.76L241.59 188.96L243.12 189.38L244.59 189.68L246.13 189.9L247.59 190.24L249.1 190.69L250.61 190.9L252.12 191.25L253.59 191.59L255.12 192.05L256.6 192.26L258.09 192.51L259.61 192.85L261.09 193.31L262.61 193.55L264.11 193.9L265.61 194.26L267.08 194.6L268.57 194.93L270.1 195.23L271.6 195.57L273.07 195.89L274.59 196.18L276.1 196.55L277.59 196.84L279.1 197.15L280.61 197.53L282.08 197.82L283.61 198.1L285.09 198.41L286.61 198.66L288.09 199.1L289.61 199.41L291.1 199.73L292.58 200.06L294.11 200.3L295.62 200.71L297.09 201.15L298.59 201.44L300.1 202.05L301.63 202.27L303.08 202.65L304.6 203.16L306.08 203.57L307.57 204.21L309.11 204.59L310.59 205.1L312.1 205.8L313.6 206.42L315.11 206.59L316.62 207.29L318.09 207.65L319.61 208.45L321.08 208.99L322.6 209.47L324.07 210.14L325.61 210.66L327.08 211.11L328.55 211.56L330.07 212.27L331.61 212.93L333.13 213.43L334.63 213.94L336.08 214.35L337.6 215.21L339.1 215.86L340.64 216.18L342.09 216.88L343.58 217.44L345.12 218.01L346.59 218.57L348.1 219.16L349.62 219.9L351.08 220.41L352.63 221.08L354.18 221.72L355.58 222.28L357.13 222.85L358.59 223.41L360.09 223.97L361.63 224.85L363.13 225.5L364.65 226.02L366.05 226.94L367.62 227.31L369.14 228.17L370.57 228.78L372.15 229.35L373.55 230.07L375.12 230.69L376.62 231.32L378.1 231.96L379.6 232.36L381.07 233.13L382.71 233.69L384.12 234.12L385.55 234.47L387.08 235.24L388.7 235.34L390.07 236.22L391.62 236.68L393 237.43L394.52 237.77L396.06 238.69L397.71 239.47L399.05 240.23L400.62 240.87L402.17 241.3L403.65 242.43L405.12 243.36L406.63 244.13L408.1 244.45L409.65 245.38L411.02 246.48L412.56 246.9L414.15 247.71L415.51 248.77L417.18 249.3L418.64 249.93L420.18 250.98L421.47 251.78L423.11 252.32L424.58 253.32L426.04 254.37L427.57 254.61L429.11 254.6L431.1 255.25L433.36 256.4L434.31 256.85L435.33 257.27L436.75 258.73L438.19 259.71L439.6 260.57L441.01 261.19L442.36 262.01L443.75 262.62L445.11 263.34L446.37 264.12L447.65 264.75L448.87 265.29L450.22 266.66L451.67 266.58L453.16 268.11L454.61 268.64L456.2 270.55L457.51 271.09L458.68 271.41L459.78 272.5L461.09 273.33L462.26 274.15L463.45 274.81L464.69 275.55L465.76 276.81L466.95 277.49L468.02 278.47L469.47 279.58L470.62 280.93L472.11 281.14L473.08 282.28L474.31 282.85L475.55 283.75L476.93 284.69L478.23 285.54L479.58 285.73L480.82 286.88L482.19 287.45L483.43 288.84L484.71 289.41L486.01 290.81L487.31 290.81L488.66 292L490.02 292.76L491.42 294.11L492.46 294.45L493.83 295.47L495.06 296.94L496.25 297.31L497.37 297.98L498.46 299.21L499.8 300.12L500.87 300.87L501.82 301.85L503.09 303.03L504.45 303.2L505.67 304.67L506.95 305.65L508.14 306.54L509.14 307.52L510.51 308.32L511.68 309.28L513.03 310.06L514.02 311.14L515.33 312.28L516.49 312.88L517.47 313.02L519.01 314.49L519.98 315.75L521.44 316.71L522.43 316.97L523.6 317.78L524.81 318.5L526.11 320.05L527.39 321.03L528.32 321.46L529.73 322.42L531.03 322.85L532.19 323.77L533.8 325.07L535.04 325.3L536.78 326.68L538.17 328.25L539.55 328.56L540.61 329.27L541.86 330.47L543.06 330.9L544.13 331.75L545.73 332.42L547.21 334.28L548.75 334.7L550.19 335.49L551.72 336.76L553.25 337.81L554.79 338.37L556.4 339.64L557.71 339.9L559.29 341.82L560.82 342.52L562.22 342.72L563.84 343.5L565.1 343.97L566.64 345.39L568.02 345.88L569.59 346.66L571.22 348.32L572.82 348.74L574.1 349.47L575.45 350.69L576.98 350.93L578.27 351.25L579.43 352.31L580.78 353.26L582.11 353.79L583.41 355.09L584.73 355.31L585.92 356.4L587.34 357.36L588.69 358.26L589.92 358.97L591.3 360.17L592.53 361.03L593.7 362.35L595.06 362.51L596.19 363.47L597.46 364.82L598.35 365.96L599.59 366.03L600.96 366.69L601.73 368.66L603.35 369.43L604.48 370.71L605.63 370.53L606.78 371.66L608.09 373.25L609.09 373.93L610.34 375.56L611.75 375.54L612.78 376.46L613.86 377.36L615.48 378.07L616.96 378.81L618.68 379.57L619.9 380.22L621.63 381.2L623.09 381.85L624.66 382.68L625.75 383.41L627.7 383.37L629.21 384.56L630.29 386.16L631.9 387.2L633.43 387.78L634.99 387.76L636.49 389.02L638.19 389.97L639.74 390.36L641 391.61L642.86 392.83L644.28 393.68L645.88 394.72L647.24 394.61L648.56 394.56L649.96 396.01L651.19 397.46L652.71 397.58L653.3 399.28L655.02 399.49L656.47 399.62L657.89 399.86L659.32 400.87L660.63 401.88L662.14 402.24L663.16 402.11L664.56 403.06L666.11 404.27L667.37 404.51L668.43 406.31L669.38 408.79L670.74 408.16L671.74 410.01L672.81 411.57L674.11 412.98L675.16 414.2L676.09 416L676.82 417.51L677.42 418.45L677.99 419.22L678.9 420.36L679.67 421.91L680.77 423L681.57 424.12L682.56 425.34L683.37 426.15L684.83 426.11L686.38 428.64L687.61 428.71L688.47 430.55L689.67 430.18L690.57 430.03L691.63 432.56L692.65 433.18L693.11 435.11L693.71 435.94L694.43 437.73L694.94 439.24L695.59 439.92L695.93 442.45L696.65 443.03L697.13 444.66L697.83 446.64L698.47 447.13L699.38 449L699.88 450.96L701.22 451.37L701.82 452.23L703.5 454.38L704.94 454.04L706.45 456.2L708.1 455.3L709.9 454.19L710.48 454.81L710.66 456.63L712.57 458.5L714.7 456.77" stroke="#d2772d" stroke-width="1.85"/>
<path d="M703.5 454.38L704.94 454.04L706.45 456.2L708.1 455.3L709.9 454.19L710.48 454.81L710.66 456.63L712.57 458.5L714.7 456.77" stroke="#d2772d" stroke-width="2.5"/>
</g>
<g fill="none" stroke-linecap="round" stroke-linejoin="round">
<path d="M103 96H786.45V728.8H103ZM119.11 728.8v-8.8M131.99 728.8v-8.8M142.88 728.8v-8.8M152.32 728.8v-8.8M160.64 728.8v-8.8M168.09 728.8v-17.6M217.08 728.8v-8.8M245.73 728.8v-8.8M266.06 728.8v-8.8M281.83 728.8v-8.8M294.72 728.8v-8.8M305.61 728.8v-8.8M315.05 728.8v-8.8M323.37 728.8v-8.8M330.82 728.8v-17.6M379.8 728.8v-8.8M408.46 728.8v-8.8M428.79 728.8v-8.8M444.56 728.8v-8.8M457.44 728.8v-8.8M468.34 728.8v-8.8M477.77 728.8v-8.8M486.1 728.8v-8.8M493.54 728.8v-17.6M542.53 728.8v-8.8M571.18 728.8v-8.8M591.51 728.8v-8.8M607.28 728.8v-8.8M620.17 728.8v-8.8M631.06 728.8v-8.8M640.5 728.8v-8.8M648.82 728.8v-8.8M656.27 728.8v-17.6M705.25 728.8v-8.8M733.91 728.8v-8.8M754.24 728.8v-8.8M770.01 728.8v-8.8M782.89 728.8v-8.8M113.01 96v8.8M141.66 96v8.8M161.99 96v8.8M177.76 96v8.8M190.65 96v8.8M201.54 96v8.8M210.98 96v8.8M219.3 96v8.8M226.75 96v17.6M275.74 96v8.8M304.39 96v8.8M324.72 96v8.8M340.49 96v8.8M353.38 96v8.8M364.27 96v8.8M373.71 96v8.8M382.03 96v8.8M389.48 96v17.6M438.46 96v8.8M467.12 96v8.8M487.45 96v8.8M503.22 96v8.8M516.1 96v8.8M527 96v8.8M536.43 96v8.8M544.76 96v8.8M552.2 96v17.6M601.19 96v8.8M629.84 96v8.8M650.17 96v8.8M665.94 96v8.8M678.83 96v8.8M689.72 96v8.8M699.16 96v8.8M707.48 96v8.8M714.93 96v17.6M763.91 96v8.8M103 129.31h8.8M786.45 129.31h-8.8M103 162.61h8.8M786.45 162.61h-8.8M103 195.92h8.8M786.45 195.92h-8.8M103 229.22h8.8M786.45 229.22h-8.8M103 262.53h17.6M786.45 262.53h-17.6M103 295.83h8.8M786.45 295.83h-8.8M103 329.14h8.8M786.45 329.14h-8.8M103 362.44h8.8M786.45 362.44h-8.8M103 395.75h8.8M786.45 395.75h-8.8M103 429.05h17.6M786.45 429.05h-17.6M103 462.36h8.8M786.45 462.36h-8.8M103 495.66h8.8M786.45 495.66h-8.8M103 528.97h8.8M786.45 528.97h-8.8M103 562.27h8.8M786.45 562.27h-8.8M103 595.58h17.6M786.45 595.58h-17.6M103 628.88h8.8M786.45 628.88h-8.8M103 662.19h8.8M786.45 662.19h-8.8M103 695.49h8.8M786.45 695.49h-8.8" stroke="#000" stroke-width="1.75" stroke-linecap="butt" stroke-linejoin="round"/>
<path transform="translate(168.09 761.2)" d="M-22.26 -17.35L-24.82 -16.52L-26.54 -14.04L-27.39 -9.91L-27.39 -7.43L-26.54 -3.3L-24.82 -0.83L-22.26 0L-20.54 0L-17.98 -0.83L-16.26 -3.3L-15.41 -7.43L-15.41 -9.91L-16.26 -14.04L-17.98 -16.52L-20.54 -17.35L-22.26 -17.35M-8.56 -1.65L-9.42 -0.83L-8.56 0L-7.7 -0.83L-8.56 -1.65M3.42 -17.35L0.86 -16.52L-0.86 -14.04L-1.71 -9.91L-1.71 -7.43L-0.86 -3.3L0.86 -0.83L3.42 0L5.14 0L7.7 -0.83L9.42 -3.3L10.27 -7.43L10.27 -9.91L9.42 -14.04L7.7 -16.52L5.14 -17.35L3.42 -17.35M17.98 -14.04L19.69 -14.87L22.26 -17.35L22.26 0" stroke="#000" stroke-width="1.5"/>
<path transform="translate(330.82 761.2)" d="M-13.7 -17.35L-16.26 -16.52L-17.98 -14.04L-18.83 -9.91L-18.83 -7.43L-17.98 -3.3L-16.26 -0.83L-13.7 0L-11.98 0L-9.42 -0.83L-7.7 -3.3L-6.85 -7.43L-6.85 -9.91L-7.7 -14.04L-9.42 -16.52L-11.98 -17.35L-13.7 -17.35M0 -1.65L-0.86 -0.83L0 0L0.86 -0.83L0 -1.65M9.42 -14.04L11.13 -14.87L13.7 -17.35L13.7 0" stroke="#000" stroke-width="1.5"/>
<path transform="translate(493.54 761.2)" d="M-3.42 -14.04L-1.71 -14.87L0.86 -17.35L0.86 0" stroke="#000" stroke-width="1.5"/>
<path transform="translate(656.27 761.2)" d="M-11.98 -14.04L-10.27 -14.87L-7.7 -17.35L-7.7 0M7.7 -17.35L5.14 -16.52L3.42 -14.04L2.57 -9.91L2.57 -7.43L3.42 -3.3L5.14 -0.83L7.7 0L9.42 0L11.98 -0.83L13.7 -3.3L14.55 -7.43L14.55 -9.91L13.7 -14.04L11.98 -16.52L9.42 -17.35L7.7 -17.35" stroke="#000" stroke-width="1.5"/>
<path transform="translate(226.75 80)" d="M-13.7 -17.35L-16.26 -16.52L-17.98 -14.04L-18.83 -9.91L-18.83 -7.43L-17.98 -3.3L-16.26 -0.83L-13.7 0L-11.98 0L-9.42 -0.83L-7.7 -3.3L-6.85 -7.43L-6.85 -9.91L-7.7 -14.04L-9.42 -16.52L-11.98 -17.35L-13.7 -17.35M0 -1.65L-0.86 -0.83L0 0L0.86 -0.83L0 -1.65M9.42 -14.04L11.13 -14.87L13.7 -17.35L13.7 0" stroke="#000" stroke-width="1.5"/>
<path transform="translate(389.48 80)" d="M-3.42 -14.04L-1.71 -14.87L0.86 -17.35L0.86 0" stroke="#000" stroke-width="1.5"/>
<path transform="translate(552.2 80)" d="M-11.98 -14.04L-10.27 -14.87L-7.7 -17.35L-7.7 0M7.7 -17.35L5.14 -16.52L3.42 -14.04L2.57 -9.91L2.57 -7.43L3.42 -3.3L5.14 -0.83L7.7 0L9.42 0L11.98 -0.83L13.7 -3.3L14.55 -7.43L14.55 -9.91L13.7 -14.04L11.98 -16.52L9.42 -17.35L7.7 -17.35" stroke="#000" stroke-width="1.5"/>
<path transform="translate(714.93 80)" d="M-20.54 -14.04L-18.83 -14.87L-16.26 -17.35L-16.26 0M-0.86 -17.35L-3.42 -16.52L-5.14 -14.04L-5.99 -9.91L-5.99 -7.43L-5.14 -3.3L-3.42 -0.83L-0.86 0L0.86 0L3.42 -0.83L5.14 -3.3L5.99 -7.43L5.99 -9.91L5.14 -14.04L3.42 -16.52L0.86 -17.35L-0.86 -17.35M16.26 -17.35L13.7 -16.52L11.98 -14.04L11.13 -9.91L11.13 -7.43L11.98 -3.3L13.7 -0.83L16.26 0L17.98 0L20.54 -0.83L22.26 -3.3L23.11 -7.43L23.11 -9.91L22.26 -14.04L20.54 -16.52L17.98 -17.35L16.26 -17.35" stroke="#000" stroke-width="1.5"/>
<path transform="translate(88.1 270.33)" d="M-28.05 -13.55L-26.4 -14.35L-23.93 -16.74L-23.93 0M-4.12 -16.74L-12.38 -16.74L-13.2 -9.56L-12.38 -10.36L-9.9 -11.16L-7.43 -11.16L-4.95 -10.36L-3.3 -8.77L-2.48 -6.38L-2.48 -4.78L-3.3 -2.39L-4.95 -0.8L-7.43 0L-9.9 0L-12.38 -0.8L-13.2 -1.59L-14.02 -3.19" stroke="#000" stroke-width="1.5"/>
<path transform="translate(88.1 436.85)" d="M-29.7 -12.75L-29.7 -13.55L-28.88 -15.14L-28.05 -15.94L-26.4 -16.74L-23.1 -16.74L-21.45 -15.94L-20.62 -15.14L-19.8 -13.55L-19.8 -11.96L-20.62 -10.36L-22.27 -7.97L-30.52 0L-18.98 0M-9.07 -16.74L-11.55 -15.94L-13.2 -13.55L-14.02 -9.56L-14.02 -7.17L-13.2 -3.19L-11.55 -0.8L-9.07 0L-7.43 0L-4.95 -0.8L-3.3 -3.19L-2.48 -7.17L-2.48 -9.56L-3.3 -13.55L-4.95 -15.94L-7.43 -16.74L-9.07 -16.74" stroke="#000" stroke-width="1.5"/>
<path transform="translate(88.1 603.38)" d="M-29.7 -12.75L-29.7 -13.55L-28.88 -15.14L-28.05 -15.94L-26.4 -16.74L-23.1 -16.74L-21.45 -15.94L-20.62 -15.14L-19.8 -13.55L-19.8 -11.96L-20.62 -10.36L-22.27 -7.97L-30.52 0L-18.98 0M-4.12 -16.74L-12.38 -16.74L-13.2 -9.56L-12.38 -10.36L-9.9 -11.16L-7.43 -11.16L-4.95 -10.36L-3.3 -8.77L-2.48 -6.38L-2.48 -4.78L-3.3 -2.39L-4.95 -0.8L-7.43 0L-9.9 0L-12.38 -0.8L-13.2 -1.59L-14.02 -3.19" stroke="#000" stroke-width="1.5"/>
<path transform="translate(386.94 803)" d="M3.9 -19.99L3.9 0M3.9 -19.99L12.67 -19.99L15.6 -19.04L16.57 -18.09L17.55 -16.18L17.55 -14.28L16.57 -12.38L15.6 -11.42L12.67 -10.47L3.9 -10.47M10.72 -10.47L17.55 0M39.97 -23.8L39.97 6.66M40.95 -23.8L40.95 6.66M39.97 -23.8L46.8 -23.8M39.97 6.66L46.8 6.66M53.62 -19.99L53.62 0M63.37 -13.33L53.62 -3.81M57.52 -7.62L64.35 0M70.2 -13.33L70.2 6.66M70.2 -10.47L72.15 -12.38L74.1 -13.33L77.02 -13.33L78.97 -12.38L80.92 -10.47L81.9 -7.62L81.9 -5.71L80.92 -2.86L78.97 -0.95L77.02 0L74.1 0L72.15 -0.95L70.2 -2.86M99.45 -10.47L97.5 -12.38L95.55 -13.33L92.62 -13.33L90.67 -12.38L88.72 -10.47L87.75 -7.62L87.75 -5.71L88.72 -2.86L90.67 -0.95L92.62 0L95.55 0L97.5 -0.95L99.45 -2.86M111.15 -23.8L111.15 6.66M112.12 -23.8L112.12 6.66M105.3 -23.8L112.12 -23.8M105.3 6.66L112.12 6.66" stroke="#000" stroke-width="1.6"/>
<path transform="translate(402.97 42.35)" d="M3.9 -19.99L3.9 0M3.9 -19.99L12.67 -19.99L15.6 -19.04L16.57 -18.09L17.55 -16.18L17.55 -14.28L16.57 -12.38L15.6 -11.42L12.67 -10.47L3.9 -10.47M10.72 -10.47L17.55 0M39.97 -23.8L39.97 6.66M40.95 -23.8L40.95 6.66M39.97 -23.8L46.8 -23.8M39.97 6.66L46.8 6.66M51.38 -23.42L50.11 -15.23M52.94 -23.42L50.11 -15.23M52.16 -23.42L50.11 -15.23M63.18 -23.8L63.18 6.66M64.16 -23.8L64.16 6.66M57.33 -23.8L64.16 -23.8M57.33 6.66L64.16 6.66" stroke="#000" stroke-width="1.6"/>
<path transform="translate(30 412.3) rotate(-90)" d="M-130.39 -13.65L-136.24 6.83M-129.41 -13.65L-135.26 6.83M-130.39 -10.72L-131.36 -4.88L-131.36 -1.95L-129.41 0L-127.46 0L-125.52 -0.97L-123.57 -2.92L-121.62 -5.85M-119.67 -13.65L-122.59 -2.92L-122.59 -0.97L-121.62 0L-118.69 0L-116.75 -1.95L-115.77 -3.9M-118.69 -13.65L-121.62 -2.92L-121.62 -0.97L-120.64 0M-95.31 -24.38L-95.31 6.83M-94.33 -24.38L-94.33 6.83M-95.31 -24.38L-88.48 -24.38M-95.31 6.83L-88.48 6.83M-81.66 -13.65L-81.66 0M-81.66 -9.75L-78.74 -12.67L-76.79 -13.65L-73.87 -13.65L-71.92 -12.67L-70.94 -9.75L-70.94 0M-70.94 -9.75L-68.02 -12.67L-66.07 -13.65L-63.15 -13.65L-61.2 -12.67L-60.22 -9.75L-60.22 0M-41.71 -13.65L-41.71 0M-41.71 -10.72L-43.66 -12.67L-45.61 -13.65L-48.53 -13.65L-50.48 -12.67L-52.43 -10.72L-53.4 -7.8L-53.4 -5.85L-52.43 -2.92L-50.48 -0.97L-48.53 0L-45.61 0L-43.66 -0.97L-41.71 -2.92M-23.19 -13.65L-23.19 1.95L-24.17 4.88L-25.14 5.85L-27.09 6.83L-30.01 6.83L-31.96 5.85M-23.19 -10.72L-25.14 -12.67L-27.09 -13.65L-30.01 -13.65L-31.96 -12.67L-33.91 -10.72L-34.89 -7.8L-34.89 -5.85L-33.91 -2.92L-31.96 -0.97L-30.01 0L-27.09 0L-25.14 -0.97L-23.19 -2.92M10.91 -13.65L10.91 0M10.91 -10.72L8.97 -12.67L7.02 -13.65L4.09 -13.65L2.14 -12.67L0.19 -10.72L-0.78 -7.8L-0.78 -5.85L0.19 -2.92L2.14 -0.97L4.09 0L7.02 0L8.97 -0.97L10.91 -2.92M18.71 -13.65L18.71 0M18.71 -7.8L19.68 -10.72L21.63 -12.67L23.58 -13.65L26.51 -13.65M42.1 -10.72L40.15 -12.67L38.2 -13.65L35.28 -13.65L33.33 -12.67L31.38 -10.72L30.4 -7.8L30.4 -5.85L31.38 -2.92L33.33 -0.97L35.28 0L38.2 0L40.15 -0.97L42.1 -2.92M58.66 -10.72L57.69 -12.67L54.77 -13.65L51.84 -13.65L48.92 -12.67L47.95 -10.72L48.92 -8.78L50.87 -7.8L55.74 -6.83L57.69 -5.85L58.66 -3.9L58.66 -2.92L57.69 -0.97L54.77 0L51.84 0L48.92 -0.97L47.95 -2.92M64.51 -7.8L76.21 -7.8L76.21 -9.75L75.23 -11.7L74.26 -12.67L72.31 -13.65L69.38 -13.65L67.44 -12.67L65.49 -10.72L64.51 -7.8L64.51 -5.85L65.49 -2.92L67.44 -0.97L69.38 0L72.31 0L74.26 -0.97L76.21 -2.92M93.75 -10.72L91.8 -12.67L89.85 -13.65L86.93 -13.65L84.98 -12.67L83.03 -10.72L82.05 -7.8L82.05 -5.85L83.03 -2.92L84.98 -0.97L86.93 0L89.85 0L91.8 -0.97L93.75 -2.92M99.01 -14.62L109.53 -14.62M114.21 -18.72L114.21 -19.3L114.8 -20.47L115.38 -21.06L116.55 -21.64L118.89 -21.64L120.06 -21.06L120.64 -20.47L121.23 -19.3L121.23 -18.13L120.64 -16.96L119.47 -15.21L113.63 -9.36L121.81 -9.36M132.34 -24.38L132.34 6.83M133.31 -24.38L133.31 6.83M126.49 -24.38L133.31 -24.38M126.49 6.83L133.31 6.83" stroke="#000" stroke-width="1.6"/>
<path transform="translate(159 316.6)" d="M3.9 -18.96L3.9 0M11.7 -18.96L11.7 0M11.7 -18.96L20.47 -18.96L23.4 -18.06L24.38 -17.16L25.35 -15.35L25.35 -13.54L24.38 -11.74L23.4 -10.84L20.47 -9.93L11.7 -9.93M18.52 -9.93L25.35 0M37.05 -18.96L29.25 0M37.05 -18.96L44.85 0M32.17 -6.32L41.92 -6.32M63.38 -14.45L62.4 -16.25L60.45 -18.06L58.5 -18.96L54.6 -18.96L52.65 -18.06L50.7 -16.25L49.73 -14.45L48.75 -11.74L48.75 -7.22L49.73 -4.52L50.7 -2.71L52.65 -0.9L54.6 0L58.5 0L60.45 -0.9L62.4 -2.71L63.38 -4.52M89.7 -18.96L86.77 -18.06L85.8 -16.25L85.8 -14.45L86.77 -12.64L88.72 -11.74L92.62 -10.84L95.55 -9.93L97.5 -8.13L98.47 -6.32L98.47 -3.61L97.5 -1.81L96.52 -0.9L93.6 0L89.7 0L86.77 -0.9L85.8 -1.81L84.82 -3.61L84.82 -6.32L85.8 -8.13L87.75 -9.93L90.67 -10.84L94.57 -11.74L96.52 -12.64L97.5 -14.45L97.5 -16.25L96.52 -18.06L93.6 -18.96L89.7 -18.96M106.27 -1.81L105.3 -0.9L106.27 0L107.25 -0.9L106.27 -1.81M119.92 -18.96L117 -18.06L115.05 -15.35L114.07 -10.84L114.07 -8.13L115.05 -3.61L117 -0.9L119.92 0L121.87 0L124.8 -0.9L126.75 -3.61L127.72 -8.13L127.72 -10.84L126.75 -15.35L124.8 -18.06L121.87 -18.96L119.92 -18.96M153.07 -12.64L147.22 6.32M154.05 -12.64L148.2 6.32M153.07 -9.93L152.1 -4.52L152.1 -1.81L154.05 0L156 0L157.95 -0.9L159.9 -2.71L161.85 -5.42M163.8 -12.64L160.87 -2.71L160.87 -0.9L161.85 0L164.77 0L166.72 -1.81L167.7 -3.61M164.77 -12.64L161.85 -2.71L161.85 -0.9L162.82 0M172.57 -12.64L172.57 0M172.57 -9.03L175.5 -11.74L177.45 -12.64L180.37 -12.64L182.32 -11.74L183.3 -9.03L183.3 0M183.3 -9.03L186.22 -11.74L188.17 -12.64L191.1 -12.64L193.05 -11.74L194.02 -9.03L194.02 0" stroke="#000000" stroke-width="1.6"/>
<path transform="translate(159 353.53)" d="M3.9 -18.96L3.9 0M11.7 -18.96L11.7 0M11.7 -18.96L20.47 -18.96L23.4 -18.06L24.38 -17.16L25.35 -15.35L25.35 -13.54L24.38 -11.74L23.4 -10.84L20.47 -9.93L11.7 -9.93M18.52 -9.93L25.35 0M37.05 -18.96L29.25 0M37.05 -18.96L44.85 0M32.17 -6.32L41.92 -6.32M63.38 -14.45L62.4 -16.25L60.45 -18.06L58.5 -18.96L54.6 -18.96L52.65 -18.06L50.7 -16.25L49.73 -14.45L48.75 -11.74L48.75 -7.22L49.73 -4.52L50.7 -2.71L52.65 -0.9L54.6 0L58.5 0L60.45 -0.9L62.4 -2.71L63.38 -4.52M96.52 -18.96L86.77 -18.96L85.8 -10.84L86.77 -11.74L89.7 -12.64L92.62 -12.64L95.55 -11.74L97.5 -9.93L98.47 -7.22L98.47 -5.42L97.5 -2.71L95.55 -0.9L92.62 0L89.7 0L86.77 -0.9L85.8 -1.81L84.82 -3.61M106.27 -1.81L105.3 -0.9L106.27 0L107.25 -0.9L106.27 -1.81M118.95 -18.96L116.02 -18.06L115.05 -16.25L115.05 -14.45L116.02 -12.64L117.97 -11.74L121.87 -10.84L124.8 -9.93L126.75 -8.13L127.72 -6.32L127.72 -3.61L126.75 -1.81L125.77 -0.9L122.85 0L118.95 0L116.02 -0.9L115.05 -1.81L114.07 -3.61L114.07 -6.32L115.05 -8.13L117 -9.93L119.92 -10.84L123.82 -11.74L125.77 -12.64L126.75 -14.45L126.75 -16.25L125.77 -18.06L122.85 -18.96L118.95 -18.96M153.07 -12.64L147.22 6.32M154.05 -12.64L148.2 6.32M153.07 -9.93L152.1 -4.52L152.1 -1.81L154.05 0L156 0L157.95 -0.9L159.9 -2.71L161.85 -5.42M163.8 -12.64L160.87 -2.71L160.87 -0.9L161.85 0L164.77 0L166.72 -1.81L167.7 -3.61M164.77 -12.64L161.85 -2.71L161.85 -0.9L162.82 0M172.57 -12.64L172.57 0M172.57 -9.03L175.5 -11.74L177.45 -12.64L180.37 -12.64L182.32 -11.74L183.3 -9.03L183.3 0M183.3 -9.03L186.22 -11.74L188.17 -12.64L191.1 -12.64L193.05 -11.74L194.02 -9.03L194.02 0" stroke="#333333" stroke-width="1.6"/>
<path transform="translate(159 390.46)" d="M3.9 -18.96L3.9 0M11.7 -18.96L11.7 0M11.7 -18.96L20.47 -18.96L23.4 -18.06L24.38 -17.16L25.35 -15.35L25.35 -13.54L24.38 -11.74L23.4 -10.84L20.47 -9.93L11.7 -9.93M18.52 -9.93L25.35 0M37.05 -18.96L29.25 0M37.05 -18.96L44.85 0M32.17 -6.32L41.92 -6.32M63.38 -14.45L62.4 -16.25L60.45 -18.06L58.5 -18.96L54.6 -18.96L52.65 -18.06L50.7 -16.25L49.73 -14.45L48.75 -11.74L48.75 -7.22L49.73 -4.52L50.7 -2.71L52.65 -0.9L54.6 0L58.5 0L60.45 -0.9L62.4 -2.71L63.38 -4.52M94.57 -18.96L84.82 -6.32L99.45 -6.32M94.57 -18.96L94.57 0M106.27 -1.81L105.3 -0.9L106.27 0L107.25 -0.9L106.27 -1.81M125.77 -18.96L116.02 -18.96L115.05 -10.84L116.02 -11.74L118.95 -12.64L121.87 -12.64L124.8 -11.74L126.75 -9.93L127.72 -7.22L127.72 -5.42L126.75 -2.71L124.8 -0.9L121.87 0L118.95 0L116.02 -0.9L115.05 -1.81L114.07 -3.61M153.07 -12.64L147.22 6.32M154.05 -12.64L148.2 6.32M153.07 -9.93L152.1 -4.52L152.1 -1.81L154.05 0L156 0L157.95 -0.9L159.9 -2.71L161.85 -5.42M163.8 -12.64L160.87 -2.71L160.87 -0.9L161.85 0L164.77 0L166.72 -1.81L167.7 -3.61M164.77 -12.64L161.85 -2.71L161.85 -0.9L162.82 0M172.57 -12.64L172.57 0M172.57 -9.03L175.5 -11.74L177.45 -12.64L180.37 -12.64L182.32 -11.74L183.3 -9.03L183.3 0M183.3 -9.03L186.22 -11.74L188.17 -12.64L191.1 -12.64L193.05 -11.74L194.02 -9.03L194.02 0" stroke="#6e6e6e" stroke-width="1.6"/>
<path transform="translate(159 427.39)" d="M3.9 -18.96L3.9 0M11.7 -18.96L11.7 0M11.7 -18.96L20.47 -18.96L23.4 -18.06L24.38 -17.16L25.35 -15.35L25.35 -13.54L24.38 -11.74L23.4 -10.84L20.47 -9.93L11.7 -9.93M18.52 -9.93L25.35 0M37.05 -18.96L29.25 0M37.05 -18.96L44.85 0M32.17 -6.32L41.92 -6.32M63.38 -14.45L62.4 -16.25L60.45 -18.06L58.5 -18.96L54.6 -18.96L52.65 -18.06L50.7 -16.25L49.73 -14.45L48.75 -11.74L48.75 -7.22L49.73 -4.52L50.7 -2.71L52.65 -0.9L54.6 0L58.5 0L60.45 -0.9L62.4 -2.71L63.38 -4.52M86.77 -18.96L97.5 -18.96L91.65 -11.74L94.57 -11.74L96.52 -10.84L97.5 -9.93L98.47 -7.22L98.47 -5.42L97.5 -2.71L95.55 -0.9L92.62 0L89.7 0L86.77 -0.9L85.8 -1.81L84.82 -3.61M106.27 -1.81L105.3 -0.9L106.27 0L107.25 -0.9L106.27 -1.81M126.75 -16.25L125.77 -18.06L122.85 -18.96L120.9 -18.96L117.97 -18.06L116.02 -15.35L115.05 -10.84L115.05 -6.32L116.02 -2.71L117.97 -0.9L120.9 0L121.87 0L124.8 -0.9L126.75 -2.71L127.72 -5.42L127.72 -6.32L126.75 -9.03L124.8 -10.84L121.87 -11.74L120.9 -11.74L117.97 -10.84L116.02 -9.03L115.05 -6.32M153.07 -12.64L147.22 6.32M154.05 -12.64L148.2 6.32M153.07 -9.93L152.1 -4.52L152.1 -1.81L154.05 0L156 0L157.95 -0.9L159.9 -2.71L161.85 -5.42M163.8 -12.64L160.87 -2.71L160.87 -0.9L161.85 0L164.77 0L166.72 -1.81L167.7 -3.61M164.77 -12.64L161.85 -2.71L161.85 -0.9L162.82 0M172.57 -12.64L172.57 0M172.57 -9.03L175.5 -11.74L177.45 -12.64L180.37 -12.64L182.32 -11.74L183.3 -9.03L183.3 0M183.3 -9.03L186.22 -11.74L188.17 -12.64L191.1 -12.64L193.05 -11.74L194.02 -9.03L194.02 0" stroke="#a8a8a8" stroke-width="1.6"/>
<path transform="translate(159.3 464.32)" d="M3.7 -18.96L3.7 0M16.67 -18.96L3.7 -6.32M8.34 -10.84L16.67 0" stroke="#8b4513" stroke-width="1.6"/>
<path transform="translate(179.25 463.02)" d="M1.66 -22.21L0.39 -14.45M3.22 -22.21L0.39 -14.45M2.44 -22.21L0.39 -14.45" stroke="#8b4513" stroke-width="1.6"/>
<path transform="translate(193.68 464.32)" d="M4.88 -12.64L3.9 -11.74L4.88 -10.84L5.85 -11.74L4.88 -12.64M4.88 -1.81L3.9 -0.9L4.88 0L5.85 -0.9L4.88 -1.81M29.25 -14.45L29.25 -15.35L30.23 -17.16L31.2 -18.06L33.15 -18.96L37.05 -18.96L39 -18.06L39.98 -17.16L40.95 -15.35L40.95 -13.54L39.98 -11.74L38.02 -9.03L28.28 0L41.92 0M48.75 -18.96L48.75 0M48.75 -18.96L56.55 0M64.35 -18.96L56.55 0M64.35 -18.96L64.35 0M77.03 -18.96L69.22 0M77.03 -18.96L84.83 0M72.15 -6.32L81.9 -6.32M102.38 -16.25L100.42 -18.06L97.5 -18.96L93.6 -18.96L90.67 -18.06L88.72 -16.25L88.72 -14.45L89.7 -12.64L90.67 -11.74L92.62 -10.84L98.47 -9.03L100.42 -8.13L101.4 -7.22L102.38 -5.42L102.38 -2.71L100.42 -0.9L97.5 0L93.6 0L90.67 -0.9L88.72 -2.71M121.88 -16.25L119.92 -18.06L117 -18.96L113.1 -18.96L110.17 -18.06L108.22 -16.25L108.22 -14.45L109.2 -12.64L110.17 -11.74L112.12 -10.84L117.97 -9.03L119.92 -8.13L120.9 -7.22L121.88 -5.42L121.88 -2.71L119.92 -0.9L117 0L113.1 0L110.17 -0.9L108.22 -2.71M156 -16.25L155.03 -18.06L152.1 -18.96L150.15 -18.96L147.22 -18.06L145.28 -15.35L144.3 -10.84L144.3 -6.32L145.28 -2.71L147.22 -0.9L150.15 0L151.12 0L154.05 -0.9L156 -2.71L156.97 -5.42L156.97 -6.32L156 -9.03L154.05 -10.84L151.12 -11.74L150.15 -11.74L147.22 -10.84L145.28 -9.03L144.3 -6.32M163.8 -14.45L177.45 -1.81M177.45 -14.45L163.8 -1.81" stroke="#8b4513" stroke-width="1.6"/>
<path transform="translate(159.3 501.25)" d="M3.7 -18.96L3.7 0M16.67 -18.96L16.67 0M3.7 -9.93L16.67 -9.93" stroke="#d2772d" stroke-width="1.6"/>
<path transform="translate(193.68 501.25)" d="M4.88 -12.64L3.9 -11.74L4.88 -10.84L5.85 -11.74L4.88 -12.64M4.88 -1.81L3.9 -0.9L4.88 0L5.85 -0.9L4.88 -1.81M29.25 -14.45L29.25 -15.35L30.23 -17.16L31.2 -18.06L33.15 -18.96L37.05 -18.96L39 -18.06L39.98 -17.16L40.95 -15.35L40.95 -13.54L39.98 -11.74L38.02 -9.03L28.28 0L41.92 0M48.75 -18.96L48.75 0M48.75 -18.96L56.55 0M64.35 -18.96L56.55 0M64.35 -18.96L64.35 0M77.03 -18.96L69.22 0M77.03 -18.96L84.83 0M72.15 -6.32L81.9 -6.32M102.38 -16.25L100.42 -18.06L97.5 -18.96L93.6 -18.96L90.67 -18.06L88.72 -16.25L88.72 -14.45L89.7 -12.64L90.67 -11.74L92.62 -10.84L98.47 -9.03L100.42 -8.13L101.4 -7.22L102.38 -5.42L102.38 -2.71L100.42 -0.9L97.5 0L93.6 0L90.67 -0.9L88.72 -2.71M121.88 -16.25L119.92 -18.06L117 -18.96L113.1 -18.96L110.17 -18.06L108.22 -16.25L108.22 -14.45L109.2 -12.64L110.17 -11.74L112.12 -10.84L117.97 -9.03L119.92 -8.13L120.9 -7.22L121.88 -5.42L121.88 -2.71L119.92 -0.9L117 0L113.1 0L110.17 -0.9L108.22 -2.71M156 -16.25L155.03 -18.06L152.1 -18.96L150.15 -18.96L147.22 -18.06L145.28 -15.35L144.3 -10.84L144.3 -6.32L145.28 -2.71L147.22 -0.9L150.15 0L151.12 0L154.05 -0.9L156 -2.71L156.97 -5.42L156.97 -6.32L156 -9.03L154.05 -10.84L151.12 -11.74L150.15 -11.74L147.22 -10.84L145.28 -9.03L144.3 -6.32M163.8 -14.45L177.45 -1.81M177.45 -14.45L163.8 -1.81" stroke="#d2772d" stroke-width="1.6"/>
<path transform="translate(159.3 538.18)" d="M3.7 -18.96L3.7 0" stroke="#ff0000" stroke-width="1.6"/>
<path transform="translate(193.68 538.18)" d="M4.88 -12.64L3.9 -11.74L4.88 -10.84L5.85 -11.74L4.88 -12.64M4.88 -1.81L3.9 -0.9L4.88 0L5.85 -0.9L4.88 -1.81M42.9 -14.45L41.92 -16.25L39.98 -18.06L38.02 -18.96L34.12 -18.96L32.18 -18.06L30.23 -16.25L29.25 -14.45L28.28 -11.74L28.28 -7.22L29.25 -4.52L30.23 -2.71L32.18 -0.9L34.12 0L38.02 0L39.98 -0.9L41.92 -2.71L42.9 -4.52M49.73 -18.96L49.73 0M49.73 -9.03L52.65 -11.74L54.6 -12.64L57.53 -12.64L59.48 -11.74L60.45 -9.03L60.45 0M72.15 -12.64L70.2 -11.74L68.25 -9.93L67.27 -7.22L67.27 -5.42L68.25 -2.71L70.2 -0.9L72.15 0L75.07 0L77.02 -0.9L78.97 -2.71L79.95 -5.42L79.95 -7.22L78.97 -9.93L77.02 -11.74L75.07 -12.64L72.15 -12.64M85.8 -18.96L86.78 -18.06L87.75 -18.96L86.78 -19.87L85.8 -18.96M86.78 -12.64L86.78 0M109.2 -7.22L120.9 -7.22L120.9 -9.03L119.92 -10.84L118.95 -11.74L117 -12.64L114.07 -12.64L112.12 -11.74L110.17 -9.93L109.2 -7.22L109.2 -5.42L110.17 -2.71L112.12 -0.9L114.07 0L117 0L118.95 -0.9L120.9 -2.71M128.7 -18.96L128.7 -3.61L129.67 -0.9L131.62 0L133.57 0M125.77 -12.64L132.6 -12.64M165.75 -12.64L165.75 0M165.75 -9.93L163.8 -11.74L161.85 -12.64L158.92 -12.64L156.97 -11.74L155.02 -9.93L154.05 -7.22L154.05 -5.42L155.02 -2.71L156.97 -0.9L158.92 0L161.85 0L163.8 -0.9L165.75 -2.71M173.55 -18.96L173.55 0M182.32 -1.81L181.35 -0.9L182.32 0L183.3 -0.9L182.32 -1.81M206.7 -14.45L206.7 -15.35L207.67 -17.16L208.65 -18.06L210.6 -18.96L214.5 -18.96L216.45 -18.06L217.42 -17.16L218.4 -15.35L218.4 -13.54L217.42 -11.74L215.47 -9.03L205.72 0L219.37 0M231.07 -18.96L228.15 -18.06L226.2 -15.35L225.22 -10.84L225.22 -8.13L226.2 -3.61L228.15 -0.9L231.07 0L233.02 0L235.95 -0.9L237.9 -3.61L238.87 -8.13L238.87 -10.84L237.9 -15.35L235.95 -18.06L233.02 -18.96L231.07 -18.96M250.57 -18.96L247.65 -18.06L245.7 -15.35L244.72 -10.84L244.72 -8.13L245.7 -3.61L247.65 -0.9L250.57 0L252.52 0L255.45 -0.9L257.4 -3.61L258.38 -8.13L258.38 -10.84L257.4 -15.35L255.45 -18.06L252.52 -18.96L250.57 -18.96M265.2 -14.45L265.2 -15.35L266.17 -17.16L267.15 -18.06L269.1 -18.96L273 -18.96L274.95 -18.06L275.92 -17.16L276.9 -15.35L276.9 -13.54L275.92 -11.74L273.97 -9.03L264.22 0L277.87 0" stroke="#ff0000" stroke-width="1.6"/>
<path transform="translate(159.3 575.11)" d="M3.7 -18.96L3.7 0M3.7 -18.96L12.04 -18.96L14.82 -18.06L15.75 -17.16L16.67 -15.35L16.67 -13.54L15.75 -11.74L14.82 -10.84L12.04 -9.93L3.7 -9.93M10.19 -9.93L16.67 0" stroke="#ff9010" stroke-width="1.6"/>
<path transform="translate(193.68 575.11)" d="M4.88 -12.64L3.9 -11.74L4.88 -10.84L5.85 -11.74L4.88 -12.64M4.88 -1.81L3.9 -0.9L4.88 0L5.85 -0.9L4.88 -1.81M27.3 -18.96L32.18 0M37.05 -18.96L32.18 0M37.05 -18.96L41.92 0M46.8 -18.96L41.92 0M69.22 -11.74L68.25 -10.84L69.22 -9.93L70.2 -10.84L70.2 -11.74L69.22 -12.64L68.25 -12.64L67.28 -11.74L66.3 -9.93L64.35 -5.42L62.4 -2.71L60.45 -0.9L58.5 0L55.58 0L52.65 -0.9L51.67 -2.71L51.67 -5.42L52.65 -7.22L58.5 -10.84L60.45 -12.64L61.42 -14.45L61.42 -16.25L60.45 -18.06L58.5 -18.96L56.55 -18.06L55.58 -16.25L55.58 -14.45L56.55 -11.74L58.5 -9.03L63.38 -2.71L65.33 -0.9L68.25 0L69.22 0L70.2 -0.9L70.2 -1.81M55.58 0L53.62 -0.9L52.65 -2.71L52.65 -5.42L53.62 -7.22L55.58 -9.03M55.58 -14.45L56.55 -12.64L64.35 -2.71L66.3 -0.9L68.25 0M77.03 -18.96L77.03 0M90.67 -18.96L77.03 -6.32M81.9 -10.84L90.67 0M115.05 -15.35L117 -16.25L119.92 -18.96L119.92 0M144.3 -12.64L143.32 -9.93L141.38 -8.13L138.45 -7.22L137.47 -7.22L134.55 -8.13L132.6 -9.93L131.62 -12.64L131.62 -13.54L132.6 -16.25L134.55 -18.06L137.47 -18.96L138.45 -18.96L141.38 -18.06L143.32 -16.25L144.3 -12.64L144.3 -8.13L143.32 -3.61L141.38 -0.9L138.45 0L136.5 0L133.57 -0.9L132.6 -2.71M156 -18.96L153.07 -18.06L152.1 -16.25L152.1 -14.45L153.07 -12.64L155.02 -11.74L158.92 -10.84L161.85 -9.93L163.8 -8.13L164.77 -6.32L164.77 -3.61L163.8 -1.81L162.82 -0.9L159.9 0L156 0L153.07 -0.9L152.1 -1.81L151.12 -3.61L151.12 -6.32L152.1 -8.13L154.05 -9.93L156.97 -10.84L160.88 -11.74L162.82 -12.64L163.8 -14.45L163.8 -16.25L162.82 -18.06L159.9 -18.96L156 -18.96M184.27 -18.96L174.52 0M170.62 -18.96L184.27 -18.96" stroke="#ff9010" stroke-width="1.6"/>
<path transform="translate(159.3 612.04)" d="M0.93 -18.96L8.34 0M15.75 -18.96L8.34 0" stroke="#32cd32" stroke-width="1.6"/>
<path transform="translate(193.68 612.04)" d="M4.88 -12.64L3.9 -11.74L4.88 -10.84L5.85 -11.74L4.88 -12.64M4.88 -1.81L3.9 -0.9L4.88 0L5.85 -0.9L4.88 -1.81M27.3 -18.96L32.18 0M37.05 -18.96L32.18 0M37.05 -18.96L41.92 0M46.8 -18.96L41.92 0M69.22 -11.74L68.25 -10.84L69.22 -9.93L70.2 -10.84L70.2 -11.74L69.22 -12.64L68.25 -12.64L67.28 -11.74L66.3 -9.93L64.35 -5.42L62.4 -2.71L60.45 -0.9L58.5 0L55.58 0L52.65 -0.9L51.67 -2.71L51.67 -5.42L52.65 -7.22L58.5 -10.84L60.45 -12.64L61.42 -14.45L61.42 -16.25L60.45 -18.06L58.5 -18.96L56.55 -18.06L55.58 -16.25L55.58 -14.45L56.55 -11.74L58.5 -9.03L63.38 -2.71L65.33 -0.9L68.25 0L69.22 0L70.2 -0.9L70.2 -1.81M55.58 0L53.62 -0.9L52.65 -2.71L52.65 -5.42L53.62 -7.22L55.58 -9.03M55.58 -14.45L56.55 -12.64L64.35 -2.71L66.3 -0.9L68.25 0M77.03 -18.96L77.03 0M90.67 -18.96L77.03 -6.32M81.9 -10.84L90.67 0M115.05 -15.35L117 -16.25L119.92 -18.96L119.92 0M144.3 -12.64L143.32 -9.93L141.38 -8.13L138.45 -7.22L137.47 -7.22L134.55 -8.13L132.6 -9.93L131.62 -12.64L131.62 -13.54L132.6 -16.25L134.55 -18.06L137.47 -18.96L138.45 -18.96L141.38 -18.06L143.32 -16.25L144.3 -12.64L144.3 -8.13L143.32 -3.61L141.38 -0.9L138.45 0L136.5 0L133.57 -0.9L132.6 -2.71M156 -18.96L153.07 -18.06L152.1 -16.25L152.1 -14.45L153.07 -12.64L155.02 -11.74L158.92 -10.84L161.85 -9.93L163.8 -8.13L164.77 -6.32L164.77 -3.61L163.8 -1.81L162.82 -0.9L159.9 0L156 0L153.07 -0.9L152.1 -1.81L151.12 -3.61L151.12 -6.32L152.1 -8.13L154.05 -9.93L156.97 -10.84L160.88 -11.74L162.82 -12.64L163.8 -14.45L163.8 -16.25L162.82 -18.06L159.9 -18.96L156 -18.96M184.27 -18.96L174.52 0M170.62 -18.96L184.27 -18.96" stroke="#32cd32" stroke-width="1.6"/>
<path transform="translate(159.3 648.97)" d="M3.7 -18.96L3.7 0M3.7 -18.96L12.04 -18.96L14.82 -18.06L15.75 -17.16L16.67 -15.35L16.67 -13.54L15.75 -11.74L14.82 -10.84L12.04 -9.93M3.7 -9.93L12.04 -9.93L14.82 -9.03L15.75 -8.13L16.67 -6.32L16.67 -3.61L15.75 -1.81L14.82 -0.9L12.04 0L3.7 0" stroke="#0000cd" stroke-width="1.6"/>
<path transform="translate(193.68 648.97)" d="M4.88 -12.64L3.9 -11.74L4.88 -10.84L5.85 -11.74L4.88 -12.64M4.88 -1.81L3.9 -0.9L4.88 0L5.85 -0.9L4.88 -1.81M27.3 -18.96L32.18 0M37.05 -18.96L32.18 0M37.05 -18.96L41.92 0M46.8 -18.96L41.92 0M69.22 -11.74L68.25 -10.84L69.22 -9.93L70.2 -10.84L70.2 -11.74L69.22 -12.64L68.25 -12.64L67.28 -11.74L66.3 -9.93L64.35 -5.42L62.4 -2.71L60.45 -0.9L58.5 0L55.58 0L52.65 -0.9L51.67 -2.71L51.67 -5.42L52.65 -7.22L58.5 -10.84L60.45 -12.64L61.42 -14.45L61.42 -16.25L60.45 -18.06L58.5 -18.96L56.55 -18.06L55.58 -16.25L55.58 -14.45L56.55 -11.74L58.5 -9.03L63.38 -2.71L65.33 -0.9L68.25 0L69.22 0L70.2 -0.9L70.2 -1.81M55.58 0L53.62 -0.9L52.65 -2.71L52.65 -5.42L53.62 -7.22L55.58 -9.03M55.58 -14.45L56.55 -12.64L64.35 -2.71L66.3 -0.9L68.25 0M77.03 -18.96L77.03 0M90.67 -18.96L77.03 -6.32M81.9 -10.84L90.67 0M115.05 -15.35L117 -16.25L119.92 -18.96L119.92 0M144.3 -12.64L143.32 -9.93L141.38 -8.13L138.45 -7.22L137.47 -7.22L134.55 -8.13L132.6 -9.93L131.62 -12.64L131.62 -13.54L132.6 -16.25L134.55 -18.06L137.47 -18.96L138.45 -18.96L141.38 -18.06L143.32 -16.25L144.3 -12.64L144.3 -8.13L143.32 -3.61L141.38 -0.9L138.45 0L136.5 0L133.57 -0.9L132.6 -2.71M156 -18.96L153.07 -18.06L152.1 -16.25L152.1 -14.45L153.07 -12.64L155.02 -11.74L158.92 -10.84L161.85 -9.93L163.8 -8.13L164.77 -6.32L164.77 -3.61L163.8 -1.81L162.82 -0.9L159.9 0L156 0L153.07 -0.9L152.1 -1.81L151.12 -3.61L151.12 -6.32L152.1 -8.13L154.05 -9.93L156.97 -10.84L160.88 -11.74L162.82 -12.64L163.8 -14.45L163.8 -16.25L162.82 -18.06L159.9 -18.96L156 -18.96M184.27 -18.96L174.52 0M170.62 -18.96L184.27 -18.96" stroke="#0000cd" stroke-width="1.6"/>
<path transform="translate(159.3 685.9)" d="M3.7 -18.96L3.7 -5.42L4.63 -2.71L6.48 -0.9L9.26 0L11.11 0L13.89 -0.9L15.75 -2.71L16.67 -5.42L16.67 -18.96" stroke="#a030f0" stroke-width="1.6"/>
<path transform="translate(193.68 685.9)" d="M4.88 -12.64L3.9 -11.74L4.88 -10.84L5.85 -11.74L4.88 -12.64M4.88 -1.81L3.9 -0.9L4.88 0L5.85 -0.9L4.88 -1.81M27.3 -18.96L32.18 0M37.05 -18.96L32.18 0M37.05 -18.96L41.92 0M46.8 -18.96L41.92 0M69.22 -11.74L68.25 -10.84L69.22 -9.93L70.2 -10.84L70.2 -11.74L69.22 -12.64L68.25 -12.64L67.28 -11.74L66.3 -9.93L64.35 -5.42L62.4 -2.71L60.45 -0.9L58.5 0L55.58 0L52.65 -0.9L51.67 -2.71L51.67 -5.42L52.65 -7.22L58.5 -10.84L60.45 -12.64L61.42 -14.45L61.42 -16.25L60.45 -18.06L58.5 -18.96L56.55 -18.06L55.58 -16.25L55.58 -14.45L56.55 -11.74L58.5 -9.03L63.38 -2.71L65.33 -0.9L68.25 0L69.22 0L70.2 -0.9L70.2 -1.81M55.58 0L53.62 -0.9L52.65 -2.71L52.65 -5.42L53.62 -7.22L55.58 -9.03M55.58 -14.45L56.55 -12.64L64.35 -2.71L66.3 -0.9L68.25 0M77.03 -18.96L77.03 0M90.67 -18.96L77.03 -6.32M81.9 -10.84L90.67 0M115.05 -15.35L117 -16.25L119.92 -18.96L119.92 0M144.3 -12.64L143.32 -9.93L141.38 -8.13L138.45 -7.22L137.47 -7.22L134.55 -8.13L132.6 -9.93L131.62 -12.64L131.62 -13.54L132.6 -16.25L134.55 -18.06L137.47 -18.96L138.45 -18.96L141.38 -18.06L143.32 -16.25L144.3 -12.64L144.3 -8.13L143.32 -3.61L141.38 -0.9L138.45 0L136.5 0L133.57 -0.9L132.6 -2.71M156 -18.96L153.07 -18.06L152.1 -16.25L152.1 -14.45L153.07 -12.64L155.02 -11.74L158.92 -10.84L161.85 -9.93L163.8 -8.13L164.77 -6.32L164.77 -3.61L163.8 -1.81L162.82 -0.9L159.9 0L156 0L153.07 -0.9L152.1 -1.81L151.12 -3.61L151.12 -6.32L152.1 -8.13L154.05 -9.93L156.97 -10.84L160.88 -11.74L162.82 -12.64L163.8 -14.45L163.8 -16.25L162.82 -18.06L159.9 -18.96L156 -18.96M184.27 -18.96L174.52 0M170.62 -18.96L184.27 -18.96" stroke="#a030f0" stroke-width="1.6"/>
</g>
</svg>
</body></html>
